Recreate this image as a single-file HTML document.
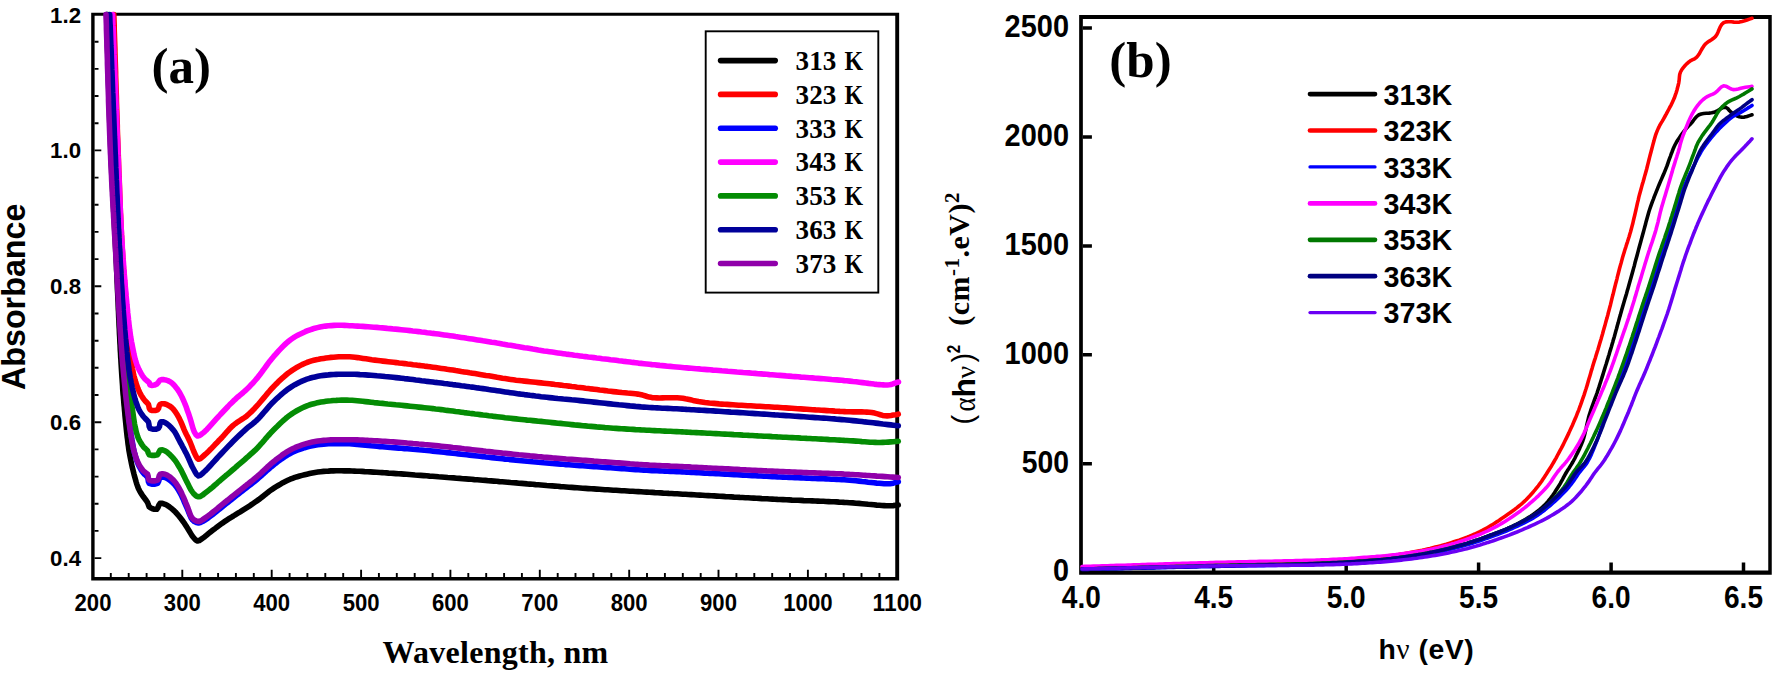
<!DOCTYPE html>
<html lang="en"><head><meta charset="utf-8"><title>UV-Vis absorbance and Tauc plots</title>
<style>
html,body{margin:0;padding:0;background:#fff;}
body{width:1774px;height:674px;overflow:hidden;}
svg{display:block;}
.sb{font-family:"Liberation Sans", sans-serif;font-weight:bold;fill:#000;}
.tb{font-family:"Liberation Serif", serif;font-weight:bold;fill:#000;}
.tr{font-family:"Liberation Serif", serif;font-weight:normal;fill:#000;}
.sr{font-family:"Liberation Sans", sans-serif;font-weight:normal;fill:#000;}
.ca path{fill:none;stroke-width:5.6;stroke-linecap:round;stroke-linejoin:round;}
.cb path{fill:none;stroke-width:3.6;stroke-linecap:round;stroke-linejoin:round;}
</style></head><body>
<svg width="1774" height="674" viewBox="0 0 1774 674" role="img" aria-label="Absorbance spectra and Tauc plots at 313-373 K">
<rect x="0" y="0" width="1774" height="674" fill="#ffffff"/>
<g id="plot-a">
<path fill="#000" d="M91.20 12.85H899.15V580.40H91.20Z M94.60 15.75H895.25V576.90H94.60Z" fill-rule="evenodd"/>
<path d="M94.5 558.1 h6.8 M94.5 530.9 h4.0 M94.5 503.7 h4.0 M94.5 476.6 h4.0 M94.5 449.4 h4.0 M94.5 422.2 h6.8 M94.5 395.0 h4.0 M94.5 367.8 h4.0 M94.5 340.7 h4.0 M94.5 313.5 h4.0 M94.5 286.3 h6.8 M94.5 259.1 h4.0 M94.5 231.9 h4.0 M94.5 204.8 h4.0 M94.5 177.6 h4.0 M94.5 150.4 h6.8 M94.5 123.2 h4.0 M94.5 96.0 h4.0 M94.5 68.9 h4.0 M94.5 41.7 h4.0 M110.8 577.0 v-4.0 M128.7 577.0 v-4.0 M146.6 577.0 v-4.0 M164.4 577.0 v-4.0 M182.3 577.0 v-7.3 M200.2 577.0 v-4.0 M218.1 577.0 v-4.0 M235.9 577.0 v-4.0 M253.8 577.0 v-4.0 M271.7 577.0 v-7.3 M289.6 577.0 v-4.0 M307.4 577.0 v-4.0 M325.3 577.0 v-4.0 M343.2 577.0 v-4.0 M361.1 577.0 v-7.3 M378.9 577.0 v-4.0 M396.8 577.0 v-4.0 M414.7 577.0 v-4.0 M432.6 577.0 v-4.0 M450.4 577.0 v-7.3 M468.3 577.0 v-4.0 M486.2 577.0 v-4.0 M504.1 577.0 v-4.0 M521.9 577.0 v-4.0 M539.8 577.0 v-7.3 M557.7 577.0 v-4.0 M575.5 577.0 v-4.0 M593.4 577.0 v-4.0 M611.3 577.0 v-4.0 M629.2 577.0 v-7.3 M647.0 577.0 v-4.0 M664.9 577.0 v-4.0 M682.8 577.0 v-4.0 M700.7 577.0 v-4.0 M718.5 577.0 v-7.3 M736.4 577.0 v-4.0 M754.3 577.0 v-4.0 M772.2 577.0 v-4.0 M790.0 577.0 v-4.0 M807.9 577.0 v-7.3 M825.8 577.0 v-4.0 M843.7 577.0 v-4.0 M861.5 577.0 v-4.0 M879.4 577.0 v-4.0" stroke="#000" stroke-width="1.9" fill="none"/>
<g class="ca">
<path stroke="#000000" d="M106.6 14.6L106.7 17.4 106.8 20.3 106.9 23.1 106.9 25.9 107 28.8 107.1 31.7 107.2 34.5 107.3 37.4 107.4 40.3 107.4 43.2 107.5 46 107.6 48.9 107.7 51.8 107.8 54.7 107.9 57.6 107.9 60.5 108 63.4 108.1 66.3 108.2 69.2 108.3 72.1 108.4 74.9 108.4 77.8 108.5 80.7 108.6 83.6 108.7 86.5 108.8 89.3 108.9 92.2 108.9 95 109 97.9 109.1 100.7 109.2 103.6 109.3 106.4 109.4 109.2 109.5 112 109.5 114.8 109.6 117.6 109.7 120.4 109.8 123.1 109.9 125.9 110 128.6 110.1 131.3 110.2 134.1 110.3 136.8 110.4 139.4 110.5 142.1 110.6 144.8 110.7 147.4 110.8 150 110.9 153 111 155.9 111.2 158.8 111.3 161.7 111.4 164.6 111.5 167.5 111.7 170.3 111.8 173.1 111.9 175.9 112.1 178.7 112.2 181.5 112.3 184.2 112.5 187 112.6 189.7 112.8 192.5 112.9 195.2 113 197.9 113.2 200.6 113.3 203.3 113.4 206 113.6 208.7 113.7 211.4 113.9 214.1 114 216.8 114.2 219.5 114.3 222.2 114.4 225 114.6 227.7 114.7 230.4 114.9 233.2 115 235.9 115.1 238.7 115.3 241.5 115.4 244.3 115.6 247.2 115.7 250 115.8 252.7 116 255.5 116.1 258.3 116.2 261.2 116.4 264 116.5 266.9 116.6 269.8 116.8 272.7 116.9 275.7 117 278.7 117.1 281.6 117.3 284.6 117.4 287.6 117.5 290.6 117.7 293.6 117.8 296.6 117.9 299.6 118.1 302.6 118.2 305.6 118.3 308.5 118.5 311.5 118.6 314.4 118.7 317.4 118.9 320.3 119 323.1 119.1 326 119.3 328.8 119.4 331.6 119.5 334.4 119.7 337.1 119.8 339.8 119.9 342.5 120.1 345.1 120.2 347.7 120.3 350.2 120.5 352.7 120.6 355.1 120.7 357.4 120.9 359.8 121 362 121.2 365.4 121.4 368.6 121.6 371.7 121.8 374.7 122 377.7 122.2 380.6 122.4 383.4 122.6 386.1 122.7 388.8 122.9 391.5 123.1 394.1 123.4 396.7 123.6 399.4 123.8 402 124 404.6 124.3 407.3 124.5 410 124.8 412.9 125 415.8 125.3 418.8 125.6 421.7 125.9 424.7 126.2 427.6 126.5 430.6 126.8 433.4 127.1 436.3 127.5 439 127.8 441.8 128.1 444.4 128.5 446.9 128.8 449.4 129.2 451.7 129.7 454.6 130.2 457.3 130.7 459.8 131.2 462.3 131.7 464.7 132.2 467 132.8 469.3 133.4 471.7 134 474.2 134.7 476.8 135.4 479.3 136.1 481.8 136.8 484.1 137.6 486.4 138.4 488.4 139.6 490.8 140.8 492.9 142.1 494.9 143.4 496.8 144.9 498.8 146.4 500.8 147.6 502.6 148.4 504.9 149.2 506.8 150.5 507.8 152 508.5 154.4 509.3 156.7 509.3 157.9 507.6 158.9 505.1 160.1 503.4 162.4 503.3 165.1 504.3 167.1 505.3 169.2 506.7 171.4 508.4 173.4 510.1 175.4 512 177.3 514.1 179.1 516.2 180.9 518.5 182.4 520.5 183.9 522.6 185.3 524.8 186.7 526.9 188 529 189.4 531.3 190.8 533.6 192.1 535.7 193.5 537.5 195.4 539.8 197.5 541 199.2 540.6 201 539.4 203 538 204.8 536.7 206.7 535.1 208.7 533.4 210.8 531.7 213 530 215.2 528.4 217.4 526.7 219.7 525 222.1 523.3 224.5 521.7 226.8 520.1 229 518.7 231.2 517.3 233.4 516 235.6 514.6 237.9 513.2 240.2 511.8 242.5 510.3 244.9 508.8 247.3 507.3 249.7 505.8 252.1 504.2 254.5 502.5 256.9 500.9 259 499.4 261.1 497.8 263.1 496.2 265.2 494.6 267.2 492.9 269.3 491.3 271.4 489.8 273.5 488.4 275.8 486.9 278.2 485.5 280.6 484.1 282.9 482.7 285.3 481.5 287.8 480.3 290.2 479.2 292.5 478.3 294.9 477.4 297.3 476.7 299.7 476 302.1 475.4 304.5 474.8 306.9 474.2 309.6 473.6 312.3 473 315.1 472.5 317.8 472.1 320.6 471.7 323.6 471.4 326 471.2 328.4 471.1 331 470.9 333.5 470.9 336.1 470.8 338.8 470.8 341.5 470.8 344.2 470.9 347 470.9 349.5 470.9 352 471 354.4 471.1 356.9 471.2 359.4 471.3 362 471.4 364.7 471.6 367.5 471.7 370.4 471.9 373.4 472.1 376.6 472.3 380 472.5 382.1 472.6 384.2 472.8 386.4 472.9 388.7 473.1 391.1 473.2 393.5 473.4 396 473.6 398.6 473.8 401.2 473.9 403.9 474.1 406.6 474.3 409.3 474.5 412.1 474.7 415 475 417.8 475.2 420.7 475.4 423.7 475.6 426.6 475.8 429.6 476.1 432.6 476.3 435.6 476.5 438.6 476.8 441.6 477 444.7 477.2 447.7 477.5 450.7 477.7 453.7 477.9 456.7 478.2 459.7 478.4 462.7 478.7 465.7 478.9 468.6 479.1 471.5 479.3 474.4 479.6 477.2 479.8 480 480 482.8 480.2 485.6 480.4 488.3 480.7 491.1 480.9 493.9 481.1 496.7 481.3 499.4 481.6 502.2 481.8 505 482 507.8 482.2 510.6 482.5 513.3 482.7 516.1 482.9 518.9 483.2 521.7 483.4 524.4 483.6 527.2 483.9 530 484.1 532.8 484.3 535.6 484.6 538.3 484.8 541.1 485 543.9 485.2 546.7 485.5 549.4 485.7 552.2 485.9 555 486.1 557.8 486.3 560.6 486.6 563.3 486.8 566.1 487 568.9 487.2 571.7 487.4 574.4 487.6 577.2 487.8 580 488 582.8 488.2 585.6 488.4 588.3 488.6 591.1 488.8 593.9 488.9 596.7 489.1 599.4 489.3 602.2 489.5 605 489.7 607.8 489.8 610.5 490 613.3 490.2 616.1 490.3 618.9 490.5 621.7 490.7 624.4 490.8 627.2 491 630 491.2 632.8 491.3 635.6 491.5 638.3 491.6 641.1 491.8 643.9 492 646.7 492.1 649.4 492.3 652.2 492.4 655 492.6 657.8 492.7 660.6 492.9 663.3 493.1 666.1 493.2 668.9 493.4 671.7 493.5 674.4 493.7 677.2 493.8 680 494 682.8 494.2 685.6 494.3 688.4 494.5 691.2 494.6 694.1 494.8 696.9 495 699.8 495.1 702.6 495.3 705.5 495.5 708.3 495.6 711.2 495.8 714.1 495.9 716.9 496.1 719.8 496.3 722.7 496.4 725.5 496.6 728.4 496.7 731.3 496.9 734.1 497.1 736.9 497.2 739.8 497.4 742.6 497.5 745.4 497.7 748.2 497.8 750.9 498 753.7 498.1 756.4 498.3 759.1 498.4 761.8 498.6 764.5 498.7 767.1 498.8 769.8 499 772.4 499.1 774.9 499.2 777.5 499.4 780 499.5 783 499.6 786.1 499.8 789.1 499.9 792.1 500.1 795 500.2 798 500.3 800.9 500.4 803.8 500.6 806.6 500.7 809.5 500.8 812.3 500.9 815.1 501 817.9 501.1 820.6 501.2 823.3 501.3 826 501.5 828.7 501.6 831.4 501.7 834 501.8 836.6 501.9 839.1 502.1 841.7 502.2 844.2 502.4 846.7 502.5 849.7 502.7 852.8 502.9 855.9 503.2 859 503.4 862.1 503.7 865.1 504 868.1 504.3 871.1 504.5 873.9 504.8 876.7 505.1 879.3 505.3 881.8 505.5 884.1 505.6 886.3 505.7 888.2 505.8 890 505.8 893.2 505.6 895.8 505.3 898.3 505.0"/>
<path stroke="#ff0000" d="M113.8 14.6L113.9 17.4 114 20.3 114.1 23.1 114.2 25.9 114.2 28.8 114.3 31.7 114.4 34.5 114.5 37.4 114.6 40.3 114.7 43.2 114.8 46 114.9 48.9 114.9 51.8 115 54.7 115.1 57.6 115.2 60.5 115.3 63.4 115.4 66.3 115.5 69.2 115.6 72.1 115.6 74.9 115.7 77.8 115.8 80.7 115.9 83.6 116 86.5 116.1 89.3 116.2 92.2 116.3 95 116.4 97.9 116.4 100.7 116.5 103.6 116.6 106.4 116.7 109.2 116.8 112 116.9 114.8 117 117.6 117.1 120.4 117.2 123.1 117.3 125.9 117.3 128.6 117.4 131.3 117.5 134.1 117.6 136.8 117.7 139.4 117.8 142.1 117.9 144.8 118 147.4 118.1 150 118.2 153 118.3 155.9 118.4 158.9 118.5 161.8 118.6 164.8 118.7 167.7 118.8 170.6 118.9 173.5 119 176.3 119.2 179.2 119.3 182 119.4 184.9 119.5 187.7 119.6 190.5 119.7 193.3 119.8 196.1 119.9 198.9 120 201.6 120.1 204.4 120.2 207.2 120.3 209.9 120.4 212.6 120.6 215.3 120.7 218.1 120.8 220.8 120.9 223.5 121 226.1 121.2 228.8 121.3 231.5 121.4 234.2 121.6 236.8 121.7 239.5 121.8 242.1 122 244.7 122.1 247.4 122.3 250 122.5 252.9 122.7 255.9 122.8 258.8 123 261.7 123.2 264.7 123.4 267.6 123.6 270.6 123.9 273.5 124.1 276.5 124.3 279.4 124.5 282.3 124.7 285.2 125 288.1 125.2 291 125.4 293.8 125.6 296.6 125.9 299.4 126.1 302.2 126.3 304.9 126.5 307.6 126.8 310.3 127 312.9 127.2 315.5 127.4 318 127.7 320.5 127.9 323 128.1 325.4 128.3 327.7 128.5 330 128.8 333.2 129.1 336.4 129.4 339.6 129.6 342.6 129.9 345.7 130.2 348.6 130.5 351.5 130.7 354.2 131 356.9 131.3 359.5 131.6 361.9 131.9 364.2 132.2 366.4 132.5 368.4 133 371.2 133.4 373.6 133.9 375.7 134.5 377.8 135.1 380.1 135.9 382.8 136.9 385.6 137.9 388.4 139 391 140.1 393.4 141.3 395.5 142.6 397.5 143.9 399.3 145.1 400.9 146.9 402.6 148.4 404.3 148.9 406.2 149.3 408.3 150.1 409.8 152.3 410.5 155.2 410.5 157.6 409.8 158.6 408.2 159.2 405.9 160.1 404.3 162 403.7 164.3 403.8 166.7 404.5 169.4 405.9 171.8 407.6 173.6 409.5 175.3 411.7 176.9 414.2 178.4 416.8 179.6 419.1 180.8 421.6 181.9 424.2 183 426.9 184 429.4 185.1 431.8 186.4 434.5 187.7 437 188.9 439.5 190.1 442 191 444.2 191.9 446.5 192.7 448.8 193.6 451 194.5 453 195.7 455.6 197 458 198.5 459.2 200.1 458.8 201.9 457.3 204 455.5 205.5 454.2 207.1 452.7 208.9 451 210.8 449.1 212.7 447.1 214.6 445.1 216.6 443.1 218.4 441.1 220.2 439.3 222.2 437.2 224.1 435.1 225.9 432.9 227.8 430.8 229.6 428.8 231.5 426.9 233.5 425.1 235.7 423.4 237.9 421.8 240.2 420.4 242.5 418.9 244.7 417.5 246.8 415.9 248.9 414 250.9 412.2 252.8 410.2 254.8 408.2 256.9 405.9 258.6 404 260.3 402 262.1 399.9 264 397.6 265.8 395.4 267.7 393.1 269.7 390.9 271.6 388.7 273.5 386.7 275.5 384.6 277.6 382.6 279.6 380.6 281.7 378.7 283.8 376.8 285.9 375 288 373.3 290.2 371.7 292.5 370.1 294.9 368.6 297.2 367.2 299.6 365.9 302 364.6 304.5 363.5 306.9 362.5 309.2 361.7 311.5 360.9 313.8 360.3 316.2 359.7 318.6 359.3 321 358.8 323.6 358.4 326 358 328.5 357.7 331 357.4 333.5 357.2 336.1 357 338.8 356.8 341.5 356.7 344.2 356.7 347 356.7 349.6 356.8 352.3 357 354.9 357.3 357.6 357.6 360.4 358 363.1 358.4 366 358.8 368.9 359.2 371.8 359.7 374.9 360.1 378 360.5 380.4 360.8 382.9 361.1 385.5 361.4 388.1 361.7 390.8 362 393.5 362.3 396.2 362.6 399 363 401.8 363.3 404.7 363.6 407.5 364 410.4 364.3 413.2 364.7 416.1 365 418.9 365.4 421.7 365.7 424.5 366.1 427.3 366.4 430 366.8 432.8 367.2 435.7 367.6 438.5 368 441.4 368.4 444.3 368.8 447.1 369.3 450 369.7 452.9 370.1 455.7 370.6 458.5 371 461.3 371.5 464.1 371.9 466.9 372.3 469.6 372.8 472.3 373.2 474.9 373.6 477.5 374 480 374.4 483 374.9 485.9 375.4 488.8 375.8 491.6 376.3 494.3 376.8 497.1 377.3 499.8 377.7 502.4 378.2 505.1 378.6 507.8 379 510.5 379.4 513.3 379.8 516.1 380.2 518.9 380.5 521.6 380.8 524.4 381.1 527.2 381.4 530 381.7 532.8 382 535.6 382.3 538.4 382.6 541.1 382.9 543.9 383.2 546.7 383.5 549.5 383.8 552.3 384.1 555 384.5 557.8 384.8 560.6 385.1 563.4 385.5 566.1 385.8 568.9 386.1 571.7 386.5 574.5 386.8 577.2 387.2 580 387.5 582.8 387.8 585.6 388.2 588.4 388.5 591.2 388.9 594.1 389.2 596.9 389.6 599.7 390 602.5 390.3 605.2 390.6 608 391 610.7 391.3 613.3 391.6 616.1 391.9 619 392.2 621.9 392.5 624.7 392.7 627.5 393 630.2 393.2 632.9 393.5 635.4 393.8 637.8 394.1 640 394.5 642.6 395.1 644.9 395.8 647.1 396.5 649.3 397.1 652 397.6 654.3 397.8 656.9 397.9 659.6 398 662.4 397.9 665.4 397.8 668.4 397.8 671.4 397.7 674.3 397.7 677.2 397.8 680 398 682.8 398.3 685.4 398.8 687.9 399.2 690.5 399.8 693 400.4 695.7 400.9 698.6 401.5 701.6 402 705 402.5 707.1 402.7 709.3 403 711.6 403.2 714 403.4 716.5 403.6 719 403.9 721.7 404.1 724.4 404.3 727.2 404.4 730 404.6 732.9 404.8 735.8 405 738.8 405.2 741.7 405.3 744.7 405.5 747.8 405.7 750.8 405.8 753.8 406 756.8 406.2 759.9 406.3 762.9 406.5 765.8 406.7 768.7 406.8 771.6 407 774.5 407.2 777.3 407.3 780 407.5 782.9 407.7 785.8 407.9 788.7 408.1 791.7 408.3 794.7 408.5 797.7 408.7 800.7 408.9 803.7 409.1 806.7 409.3 809.7 409.5 812.7 409.7 815.6 409.9 818.5 410 821.4 410.2 824.2 410.4 827 410.6 829.7 410.8 832.4 410.9 835 411.1 837.5 411.2 839.9 411.4 842.3 411.5 844.5 411.6 846.7 411.7 850 411.8 853.2 411.9 856.2 411.9 859.1 411.9 861.8 411.9 864.4 412 866.9 412.1 869.3 412.2 871.7 412.5 874.7 413.1 877.6 413.9 880.3 414.7 882.7 415.4 885 415.8 887.1 415.9 889 415.7 891 415.5 893.4 415.1 895.8 414.7 898.3 414.2"/>
<path stroke="#0000ff" d="M107 14.6L107.1 17.4 107.2 20.3 107.3 23.1 107.4 25.9 107.4 28.8 107.5 31.7 107.6 34.5 107.7 37.4 107.8 40.3 107.9 43.2 107.9 46 108 48.9 108.1 51.8 108.2 54.7 108.3 57.6 108.4 60.5 108.4 63.4 108.5 66.3 108.6 69.2 108.7 72.1 108.8 74.9 108.9 77.8 108.9 80.7 109 83.6 109.1 86.5 109.2 89.3 109.3 92.2 109.4 95 109.5 97.9 109.5 100.7 109.6 103.6 109.7 106.4 109.8 109.2 109.9 112 110 114.8 110.1 117.6 110.2 120.4 110.3 123.1 110.4 125.9 110.5 128.6 110.6 131.3 110.7 134.1 110.8 136.8 110.9 139.4 111 142.1 111.1 144.8 111.2 147.4 111.3 150 111.4 153 111.6 155.9 111.7 158.8 111.8 161.7 111.9 164.6 112.1 167.5 112.2 170.3 112.3 173.1 112.5 175.9 112.6 178.7 112.7 181.5 112.9 184.2 113 187 113.2 189.7 113.3 192.5 113.4 195.2 113.6 197.9 113.7 200.6 113.9 203.3 114 206 114.2 208.7 114.3 211.4 114.5 214.1 114.6 216.8 114.8 219.5 114.9 222.2 115.1 225 115.2 227.7 115.4 230.4 115.5 233.2 115.7 235.9 115.9 238.7 116 241.5 116.2 244.3 116.3 247.2 116.5 250 116.7 252.7 116.8 255.5 117 258.3 117.1 261.2 117.3 264 117.5 266.9 117.6 269.8 117.8 272.7 118 275.7 118.1 278.7 118.3 281.6 118.5 284.6 118.7 287.6 118.8 290.6 119 293.6 119.2 296.6 119.4 299.6 119.6 302.6 119.7 305.6 119.9 308.5 120.1 311.5 120.3 314.4 120.5 317.4 120.6 320.3 120.8 323.2 121 326 121.2 328.8 121.4 331.6 121.5 334.4 121.7 337.1 121.9 339.8 122.1 342.5 122.3 345.1 122.4 347.7 122.6 350.2 122.8 352.7 123 355.1 123.2 357.4 123.3 359.8 123.5 362 123.8 365.4 124 368.7 124.3 371.9 124.6 375 124.8 378 125.1 381 125.3 383.9 125.6 386.7 125.9 389.5 126.1 392.2 126.4 394.9 126.7 397.5 126.9 400.1 127.2 402.6 127.5 405.1 127.7 407.6 128 410 128.3 413 128.7 416 129 418.9 129.4 421.7 129.7 424.4 130 427 130.4 429.6 130.8 432.1 131.1 434.6 131.5 437 131.9 439.7 132.4 442.2 132.8 444.7 133.2 447.2 133.7 449.5 134.2 451.8 134.8 454 135.5 456.6 136.3 459.1 137.1 461.5 138 463.8 139 466 140.2 468.2 141.4 470.3 142.7 472.2 144 473.8 145.9 475.5 147.6 477.2 148.1 479.3 148.4 481.6 149.2 483.3 151.7 484.1 155 484.1 157.6 483.3 158.6 481.5 159.2 479.2 160.1 477.5 162.4 477 165.1 477.5 167.1 478.4 169.3 479.8 171.4 481.5 173.4 483.3 174.9 485 176.3 486.8 177.6 488.8 178.9 490.8 180.1 493 181.3 495.2 182.4 497.6 183.6 500.1 184.6 502.6 185.7 505.1 186.8 507.5 187.9 510.2 189 513 190.1 515.7 191.2 518.1 192.6 520 194.4 521.6 196.4 522.6 198.5 523 200.4 522.6 202.4 521.6 204.5 520.3 206.8 518.8 208.6 517.6 210.6 516.1 212.7 514.5 214.8 512.8 217 511 219.2 509.3 221.4 507.5 223.5 505.8 225.6 504.1 227.7 502.5 229.8 500.8 231.9 499.2 233.9 497.5 236 495.8 238.1 494.2 240.2 492.5 242.3 490.9 244.4 489.3 246.5 487.7 248.6 486.1 250.7 484.5 252.8 482.8 254.8 481.2 256.9 479.5 259 477.7 261.1 475.9 263.1 474 265.2 472.2 267.2 470.3 269.3 468.5 271.4 466.7 273.5 465 275.5 463.4 277.6 461.8 279.7 460.3 281.7 458.8 283.8 457.4 285.9 456 288.1 454.7 290.2 453.5 292.5 452.3 294.9 451.2 297.3 450.2 299.7 449.3 302.1 448.5 304.5 447.7 306.9 447 309.6 446.3 312.3 445.7 315 445.2 317.8 444.8 320.6 444.5 323.6 444.2 326 444 328.5 443.8 331 443.7 333.5 443.6 336.1 443.6 338.8 443.6 341.5 443.6 344.2 443.6 347 443.7 349.5 443.8 352.1 444 354.7 444.1 357.3 444.4 360 444.6 362.7 444.9 365.5 445.2 368.3 445.5 371.1 445.8 374 446 377 446.3 380 446.6 382.5 446.8 385.1 447 387.7 447.2 390.4 447.5 393.1 447.7 395.9 447.9 398.7 448.1 401.5 448.3 404.4 448.6 407.2 448.8 410.1 449 413 449.3 415.8 449.5 418.7 449.8 421.6 450 424.4 450.3 427.2 450.5 430 450.8 432.8 451.1 435.6 451.4 438.5 451.7 441.3 452 444.2 452.3 447 452.6 449.9 452.9 452.8 453.2 455.6 453.5 458.5 453.9 461.3 454.2 464.1 454.5 466.8 454.8 469.6 455.1 472.3 455.4 474.9 455.7 477.5 456 480 456.3 483 456.6 485.9 457 488.8 457.3 491.6 457.6 494.3 457.9 497.1 458.2 499.8 458.5 502.4 458.8 505.1 459.1 507.8 459.3 510.5 459.6 513.3 459.9 516.1 460.2 518.9 460.5 521.6 460.7 524.4 461 527.2 461.3 530 461.5 532.8 461.8 535.6 462 538.4 462.3 541.1 462.5 543.9 462.8 546.7 463 549.5 463.2 552.3 463.5 555 463.7 557.8 463.9 560.6 464.1 563.4 464.3 566.1 464.6 568.9 464.8 571.7 465 574.4 465.2 577.2 465.4 580 465.6 582.8 465.8 585.5 466 588.3 466.2 591.1 466.4 593.9 466.6 596.6 466.8 599.4 467 602.2 467.2 605 467.4 607.7 467.6 610.5 467.8 613.3 468 616.1 468.2 618.9 468.4 621.6 468.6 624.4 468.8 627.2 469 630 469.2 632.8 469.4 635.6 469.6 638.4 469.8 641.1 470 643.9 470.1 646.7 470.3 649.4 470.4 652 470.6 654.6 470.7 657.1 470.8 659.7 470.9 662.2 471 664.9 471.1 667.6 471.2 670.4 471.4 673.4 471.5 676.6 471.6 680 471.8 682.1 471.9 684.3 472 686.5 472.1 688.9 472.2 691.3 472.4 693.8 472.5 696.4 472.6 699 472.8 701.7 472.9 704.5 473.1 707.3 473.2 710.1 473.4 713 473.5 715.9 473.7 718.9 473.8 721.9 474 724.9 474.1 727.9 474.3 730.9 474.5 734 474.6 737 474.8 740.1 474.9 743.1 475.1 746.2 475.3 749.2 475.4 752.2 475.6 755.2 475.7 758.1 475.9 761 476 763.9 476.2 766.7 476.3 769.5 476.5 772.2 476.6 774.9 476.7 777.5 476.9 780 477 783 477.1 786.1 477.3 789.1 477.4 792.1 477.5 795 477.7 798 477.8 800.9 477.9 803.8 478 806.6 478.1 809.5 478.2 812.3 478.4 815.1 478.5 817.9 478.6 820.6 478.7 823.3 478.8 826 478.9 828.7 479 831.4 479.2 834 479.3 836.6 479.4 839.1 479.5 841.7 479.7 844.2 479.8 846.7 480 849.7 480.2 852.8 480.5 855.9 480.8 859 481.1 862.1 481.5 865.1 481.8 868.1 482.2 871.1 482.5 873.9 482.8 876.7 483.1 879.3 483.3 881.8 483.5 884.1 483.7 886.3 483.8 888.2 483.8 890 483.7 893.3 483.2 895.8 482.4 898.3 481.7"/>
<path stroke="#ff00ff" d="M112.6 14.6L112.7 17.4 112.8 20.3 112.9 23.1 113 25.9 113.2 28.8 113.3 31.7 113.4 34.5 113.5 37.4 113.6 40.3 113.7 43.2 113.8 46 113.9 48.9 114 51.8 114.1 54.7 114.3 57.6 114.4 60.5 114.5 63.4 114.6 66.3 114.7 69.2 114.8 72.1 114.9 74.9 115 77.8 115.1 80.7 115.2 83.6 115.4 86.5 115.5 89.3 115.6 92.2 115.7 95 115.8 97.9 115.9 100.7 116 103.6 116.1 106.4 116.2 109.2 116.4 112 116.5 114.8 116.6 117.6 116.7 120.4 116.8 123.1 116.9 125.9 117 128.6 117.1 131.3 117.2 134.1 117.3 136.8 117.5 139.4 117.6 142.1 117.7 144.8 117.8 147.4 117.9 150 118 153 118.1 155.9 118.3 158.9 118.4 161.8 118.5 164.8 118.6 167.7 118.7 170.6 118.8 173.5 119 176.3 119.1 179.2 119.2 182 119.3 184.9 119.4 187.7 119.5 190.5 119.6 193.3 119.7 196.1 119.9 198.9 120 201.7 120.1 204.4 120.2 207.2 120.3 209.9 120.4 212.6 120.6 215.4 120.7 218.1 120.8 220.8 121 223.5 121.1 226.1 121.2 228.8 121.4 231.5 121.5 234.2 121.7 236.8 121.8 239.5 122 242.1 122.2 244.7 122.3 247.4 122.5 250 122.7 252.9 122.9 255.9 123.1 258.9 123.4 262 123.6 265.1 123.8 268.2 124.1 271.3 124.3 274.4 124.6 277.5 124.8 280.6 125.1 283.7 125.3 286.7 125.6 289.8 125.9 292.8 126.1 295.8 126.4 298.7 126.7 301.6 126.9 304.4 127.2 307.2 127.5 309.9 127.7 312.5 128 315 128.3 317.5 128.5 319.8 128.8 322.1 129 324.3 129.2 326.3 129.5 328.2 129.7 330 130.2 333.5 130.6 336.5 131.1 339.2 131.5 341.7 132 344.1 132.5 346.7 133 349.3 133.5 351.9 134 354.5 134.6 357 135.2 359.4 135.9 361.7 136.8 364.4 137.8 367 138.9 369.4 140.1 371.7 141.3 373.8 142.5 375.8 143.8 377.6 145.1 379.2 147.3 381 149.2 382.6 149.6 384 150.1 385.1 151.9 385.4 154.5 385 156.7 384.2 158.5 382.1 160.1 380.1 161.6 379.6 163.4 379.6 165.5 379.9 167.8 380.6 170.1 381.7 171.9 383 173.6 384.6 175.2 386.4 176.8 388.4 178.2 390.4 179.6 392.6 180.9 395 182.2 397.5 183.4 400.1 184.4 402.5 185.5 405.1 186.5 407.8 187.4 410.5 188.4 413.2 189.3 415.9 190.1 418.4 191 421.3 191.8 424.3 192.6 427.1 193.4 429.7 194.3 431.8 195.8 434.5 197.6 436 199.3 435.6 201.3 434.3 203.5 432.6 205.2 431.1 206.9 429.4 208.8 427.3 210.8 425.1 212.8 422.9 214.8 420.6 216.8 418.4 218.6 416.5 220.4 414.5 222.3 412.5 224.2 410.5 226.1 408.5 228 406.5 229.8 404.5 231.7 402.7 233.5 400.9 235.5 399.1 237.4 397.3 239.4 395.7 241.3 394.1 243.2 392.5 245 390.9 246.8 389.2 248.6 387.5 250.2 385.8 251.9 384.1 253.5 382.3 255.1 380.5 256.9 378.4 258.4 376.5 260 374.5 261.6 372.4 263.2 370.1 264.9 367.8 266.6 365.5 268.3 363.2 270 360.9 271.8 358.7 273.5 356.7 275.3 354.7 277.1 352.6 278.9 350.6 280.8 348.6 282.6 346.7 284.5 344.9 286.4 343.1 288.3 341.5 290.2 340 292.3 338.5 294.4 337.1 296.5 335.9 298.7 334.7 300.9 333.7 303 332.7 305.2 331.7 307.6 330.7 310 329.8 312.5 329 314.9 328.2 317.4 327.6 320 327 322.7 326.5 325.5 326.1 328.4 325.8 331.2 325.6 334.1 325.4 337 325.3 339.5 325.3 342 325.3 344.5 325.4 347.1 325.5 349.6 325.7 352.3 325.8 355 326 357.6 326.1 360.1 326.3 362.7 326.4 365.4 326.6 368.1 326.8 370.9 327 373.8 327.2 376.8 327.4 380 327.7 382.4 327.9 384.8 328.1 387.3 328.4 390 328.6 392.7 328.9 395.4 329.1 398.2 329.4 401.1 329.7 403.9 330 406.8 330.3 409.8 330.6 412.7 331 415.6 331.3 418.6 331.6 421.5 332 424.4 332.3 427.2 332.7 430 333 432.8 333.4 435.6 333.7 438.5 334.1 441.3 334.5 444.2 334.9 447.1 335.3 449.9 335.7 452.8 336.1 455.6 336.6 458.5 337 461.3 337.4 464.1 337.8 466.9 338.3 469.6 338.7 472.3 339.1 474.9 339.5 477.5 339.9 480 340.3 483 340.8 485.9 341.2 488.8 341.7 491.6 342.2 494.4 342.6 497.1 343.1 499.8 343.5 502.4 344 505.1 344.4 507.8 344.9 510.5 345.3 513.3 345.8 516.1 346.3 518.9 346.7 521.6 347.2 524.4 347.7 527.2 348.1 530 348.6 532.8 349.1 535.6 349.5 538.3 350 541.1 350.4 543.9 350.9 546.7 351.3 549.5 351.7 552.2 352.1 555 352.5 557.8 352.9 560.6 353.3 563.3 353.7 566.1 354.1 568.9 354.4 571.7 354.8 574.4 355.2 577.2 355.5 580 355.9 582.8 356.3 585.5 356.6 588.3 357 591.1 357.3 593.9 357.6 596.6 358 599.4 358.3 602.2 358.7 605 359 607.7 359.3 610.5 359.7 613.3 360 616.1 360.3 618.9 360.7 621.6 361 624.4 361.4 627.2 361.7 630 362 632.8 362.4 635.6 362.7 638.3 363.1 641.1 363.4 643.9 363.7 646.7 364 649.4 364.3 652 364.6 654.6 364.8 657.1 365.1 659.7 365.4 662.2 365.6 664.9 365.9 667.6 366.2 670.4 366.4 673.4 366.7 676.6 367 680 367.3 682.1 367.5 684.3 367.7 686.5 367.9 688.9 368.1 691.3 368.3 693.8 368.5 696.4 368.7 699 368.9 701.7 369.2 704.5 369.4 707.3 369.6 710.1 369.8 713 370.1 715.9 370.3 718.9 370.5 721.9 370.8 724.9 371 727.9 371.3 730.9 371.5 734 371.7 737 372 740.1 372.2 743.1 372.5 746.2 372.7 749.2 372.9 752.2 373.2 755.2 373.4 758.1 373.7 761 373.9 763.9 374.1 766.7 374.3 769.5 374.6 772.2 374.8 774.9 375 777.5 375.2 780 375.4 783.1 375.6 786.1 375.9 789.1 376.1 792.1 376.4 795.1 376.6 798.1 376.8 801 377.1 803.9 377.3 806.8 377.5 809.7 377.7 812.5 377.9 815.3 378.2 818.1 378.4 820.9 378.6 823.6 378.8 826.3 379 829 379.2 831.6 379.5 834.2 379.7 836.8 379.9 839.3 380.1 841.8 380.3 844.3 380.6 846.7 380.8 849.8 381.1 853 381.5 856.2 381.8 859.4 382.2 862.5 382.6 865.6 383 868.6 383.4 871.5 383.7 874.2 384.1 876.8 384.4 879.2 384.6 881.4 384.8 883.3 384.9 885 385 887.4 385 889.2 384.8 891 384.5 893 383.9 895 383.1 896.7 382.5 897.7 382.2 898.5 382.0"/>
<path stroke="#048c04" d="M108 14.6L108.1 17.4 108.2 20.3 108.4 23.1 108.5 25.9 108.6 28.8 108.7 31.7 108.9 34.5 109 37.4 109.1 40.3 109.2 43.2 109.4 46 109.5 48.9 109.6 51.8 109.7 54.7 109.9 57.6 110 60.5 110.1 63.4 110.2 66.3 110.4 69.2 110.5 72.1 110.6 74.9 110.7 77.8 110.8 80.7 111 83.6 111.1 86.5 111.2 89.3 111.3 92.2 111.5 95 111.6 97.9 111.7 100.7 111.8 103.6 112 106.4 112.1 109.2 112.2 112 112.3 114.8 112.5 117.6 112.6 120.4 112.7 123.1 112.8 125.9 113 128.6 113.1 131.3 113.2 134.1 113.4 136.8 113.5 139.4 113.6 142.1 113.7 144.8 113.9 147.4 114 150 114.1 153 114.3 155.9 114.4 158.8 114.6 161.7 114.7 164.6 114.9 167.5 115 170.3 115.2 173.1 115.3 175.9 115.5 178.7 115.6 181.5 115.8 184.2 115.9 187 116.1 189.7 116.2 192.5 116.4 195.2 116.5 197.9 116.7 200.6 116.8 203.3 117 206 117.1 208.7 117.3 211.4 117.5 214.1 117.6 216.8 117.8 219.5 117.9 222.2 118.1 225 118.2 227.7 118.4 230.4 118.5 233.2 118.7 235.9 118.9 238.7 119 241.5 119.2 244.3 119.3 247.2 119.5 250 119.7 252.7 119.8 255.5 120 258.3 120.1 261.2 120.3 264 120.4 266.9 120.5 269.8 120.7 272.7 120.8 275.7 121 278.7 121.1 281.6 121.3 284.6 121.4 287.6 121.6 290.6 121.7 293.6 121.9 296.6 122 299.6 122.1 302.6 122.3 305.6 122.5 308.5 122.6 311.5 122.8 314.4 122.9 317.4 123.1 320.3 123.2 323.2 123.4 326 123.6 328.9 123.7 331.7 123.9 334.4 124.1 337.2 124.2 339.9 124.4 342.5 124.6 345.1 124.8 347.7 125 350.2 125.2 352.7 125.4 355.1 125.6 357.5 125.8 359.8 126 362 126.3 365.4 126.7 368.7 127.1 372 127.5 375.2 127.9 378.4 128.3 381.4 128.7 384.4 129.1 387.4 129.5 390.2 129.9 393 130.3 395.7 130.7 398.3 131.1 400.8 131.5 403.3 131.8 405.6 132.2 407.9 132.5 410 133 413.3 133.4 416.3 133.8 419.1 134.2 421.7 134.6 424.2 135.1 426.7 135.7 429.2 136.2 431.7 136.9 434 137.6 436.3 138.4 438.4 139.5 440.7 140.8 442.9 142.1 444.9 143.4 446.7 144.9 448.2 146.4 449.5 147.6 450.9 148.3 453 149.2 454.7 151.7 455.4 155 455.4 157.6 454.7 158.9 452.3 160.1 450 162.4 449.9 165.1 450.9 167.1 452.2 169.3 454.1 171.4 456.2 173.4 458.4 174.9 460.2 176.3 462.1 177.6 464.2 178.8 466.2 180.1 468.4 181.3 470.5 182.4 472.7 183.5 475 184.6 477.3 185.7 479.6 186.8 481.8 188.1 484.3 189.4 486.9 190.7 489.4 192.1 491.6 193.5 493.4 195.1 495 196.7 496.3 198.5 496.8 200.4 496.4 202.4 495.2 204.5 493.5 206.8 491.8 208.6 490.4 210.6 488.8 212.7 487.1 214.8 485.2 217 483.3 219.2 481.3 221.4 479.4 223.5 477.6 225.6 475.8 227.7 474.1 229.8 472.3 231.9 470.5 234 468.8 236 467 238.1 465.2 240.2 463.4 242.3 461.6 244.4 459.8 246.5 457.9 248.6 456.1 250.7 454.2 252.8 452.3 254.9 450.4 256.9 448.4 258.8 446.5 260.6 444.4 262.5 442.4 264.3 440.3 266.1 438.1 267.9 436 269.8 434 271.6 431.9 273.5 430 275.5 428 277.6 426 279.6 424 281.7 422 283.8 420.1 285.9 418.3 288 416.6 290.2 415 292.5 413.4 294.9 411.9 297.2 410.5 299.6 409.2 302 408 304.5 406.9 306.9 405.9 309.2 405 311.5 404.3 313.8 403.7 316.2 403.1 318.6 402.6 321 402.1 323.6 401.7 326 401.3 328.4 401 330.9 400.8 333.5 400.5 336.1 400.4 338.7 400.2 341.5 400.1 344.2 400.1 347 400.1 349.5 400.2 352.1 400.3 354.7 400.5 357.3 400.7 360 401 362.7 401.3 365.5 401.6 368.3 401.9 371.1 402.2 374 402.6 377 402.9 380 403.2 382.5 403.4 385.1 403.7 387.7 404 390.4 404.2 393.1 404.5 395.9 404.8 398.7 405 401.5 405.3 404.4 405.6 407.2 405.9 410.1 406.2 413 406.5 415.8 406.8 418.7 407.1 421.6 407.4 424.4 407.7 427.2 408 430 408.3 432.8 408.6 435.6 409 438.5 409.3 441.3 409.6 444.2 410 447 410.4 449.9 410.7 452.8 411.1 455.6 411.5 458.5 411.8 461.3 412.2 464.1 412.6 466.8 412.9 469.6 413.3 472.3 413.6 474.9 414 477.5 414.3 480 414.6 483 415 485.9 415.3 488.8 415.7 491.6 416 494.3 416.4 497.1 416.7 499.8 417 502.4 417.3 505.1 417.7 507.8 418 510.5 418.3 513.3 418.6 516.1 418.9 518.9 419.2 521.6 419.5 524.4 419.8 527.2 420.1 530 420.3 532.8 420.6 535.6 420.9 538.4 421.2 541.1 421.4 543.9 421.7 546.7 422 549.5 422.3 552.3 422.6 555 422.9 557.8 423.2 560.6 423.4 563.4 423.7 566.1 424 568.9 424.3 571.7 424.6 574.4 424.9 577.2 425.1 580 425.4 582.8 425.7 585.5 425.9 588.3 426.2 591.1 426.4 593.9 426.6 596.6 426.9 599.4 427.1 602.2 427.3 605 427.6 607.7 427.8 610.5 428 613.3 428.2 616.1 428.4 618.9 428.6 621.6 428.8 624.4 428.9 627.2 429.1 630 429.3 632.8 429.4 635.6 429.6 638.4 429.7 641.1 429.9 643.9 430 646.7 430.2 649.4 430.3 652 430.5 654.6 430.6 657.1 430.7 659.7 430.8 662.2 431 664.9 431.1 667.6 431.2 670.4 431.3 673.4 431.5 676.6 431.6 680 431.8 682.1 431.9 684.3 432 686.5 432.1 688.9 432.2 691.3 432.4 693.8 432.5 696.4 432.6 699 432.8 701.7 432.9 704.5 433 707.3 433.2 710.1 433.3 713 433.5 715.9 433.6 718.9 433.8 721.9 434 724.9 434.1 727.9 434.3 730.9 434.4 734 434.6 737 434.7 740.1 434.9 743.1 435.1 746.2 435.2 749.2 435.4 752.2 435.5 755.2 435.7 758.1 435.9 761 436 763.9 436.2 766.7 436.3 769.5 436.4 772.2 436.6 774.9 436.7 777.5 436.9 780 437 783.1 437.2 786.1 437.3 789.1 437.5 792.2 437.6 795.2 437.8 798.2 437.9 801.1 438.1 804.1 438.2 807 438.4 809.9 438.5 812.8 438.7 815.6 438.8 818.4 439 821.2 439.1 824 439.3 826.7 439.4 829.3 439.6 832 439.7 834.5 439.8 837.1 440 839.6 440.1 842 440.2 844.4 440.4 846.7 440.5 849.9 440.7 853 440.9 856.1 441.1 859 441.3 861.9 441.6 864.7 441.8 867.4 442 870.1 442.2 872.6 442.3 875.2 442.4 877.6 442.5 880 442.5 882.9 442.4 885.6 442.3 888.2 442.1 890.7 441.9 893.2 441.7 895.7 441.5 898.3 441.3"/>
<path stroke="#00009a" d="M109.7 14.6L109.8 17.4 109.9 20.3 110 23.1 110.2 25.9 110.3 28.8 110.4 31.7 110.5 34.5 110.6 37.4 110.7 40.3 110.8 43.2 110.9 46 111.1 48.9 111.2 51.8 111.3 54.7 111.4 57.6 111.5 60.5 111.6 63.4 111.7 66.3 111.8 69.2 112 72.1 112.1 74.9 112.2 77.8 112.3 80.7 112.4 83.6 112.5 86.5 112.6 89.3 112.7 92.2 112.9 95 113 97.9 113.1 100.7 113.2 103.6 113.3 106.4 113.4 109.2 113.5 112 113.7 114.8 113.8 117.6 113.9 120.4 114 123.1 114.1 125.9 114.2 128.6 114.3 131.3 114.4 134.1 114.5 136.8 114.7 139.4 114.8 142.1 114.9 144.8 115 147.4 115.1 150 115.2 153 115.4 156 115.5 158.9 115.6 161.9 115.7 164.8 115.8 167.7 116 170.7 116.1 173.6 116.2 176.5 116.3 179.4 116.5 182.2 116.6 185.1 116.7 188 116.8 190.8 116.9 193.6 117.1 196.5 117.2 199.3 117.3 202.1 117.4 204.8 117.6 207.6 117.7 210.4 117.8 213.1 117.9 215.8 118 218.5 118.2 221.2 118.3 223.9 118.4 226.6 118.5 229.3 118.7 231.9 118.8 234.5 118.9 237.2 119.1 239.8 119.2 242.3 119.3 244.9 119.5 247.5 119.6 250 119.8 253 119.9 256.1 120.1 259.1 120.3 262.1 120.4 265.1 120.6 268.1 120.8 271 120.9 273.9 121.1 276.9 121.3 279.8 121.4 282.6 121.6 285.5 121.8 288.3 122 291.1 122.2 293.9 122.3 296.6 122.5 299.4 122.7 302 122.9 304.7 123.1 307.3 123.2 309.9 123.4 312.5 123.6 315 123.8 317.5 124 320 124.2 323.1 124.5 326.2 124.7 329.3 125 332.3 125.3 335.3 125.5 338.2 125.8 341 126 343.9 126.3 346.6 126.6 349.3 126.8 352 127.1 354.6 127.4 357.1 127.7 359.6 128 362 128.4 364.9 128.8 367.7 129.1 370.4 129.5 373 129.9 375.5 130.3 378 130.8 380.4 131.2 382.7 131.7 385.1 132.3 388.1 133 391 133.7 393.9 134.4 396.6 135.1 399.2 135.9 401.7 136.9 404.5 137.8 407.1 138.9 409.5 140.1 411.8 141.7 414.2 143.4 416.5 145.1 418.4 146.9 420.1 148.4 421.8 148.9 424 149.2 426.6 150.1 428.4 152.6 429.2 155.8 429.2 158.4 428.4 159.5 426.4 160 423.6 160.9 421.8 162.8 421.7 165.1 422.6 167.1 423.9 169.3 425.7 171.4 427.8 173.4 430.1 174.9 432.2 176.3 434.6 177.5 437 178.8 439.5 180.1 442 181.3 444.1 182.4 446.3 183.6 448.4 184.7 450.6 185.9 452.8 187 455 188.1 457.4 189.2 459.8 190.3 462.3 191.3 464.7 192.4 467 193.5 469 195.1 472 196.7 474.6 198.5 475.9 200.2 475.4 202 473.9 204 472 205.5 470.7 207.1 469.1 208.8 467.2 210.6 465.3 212.5 463.2 214.4 461.1 216.3 459 218.2 456.9 220 455 221.9 453 223.9 450.9 225.8 448.9 227.7 446.9 229.6 444.9 231.5 443 233.4 441.1 235.2 439.3 237.2 437.3 239.2 435.4 241.1 433.6 243 431.8 244.9 430.1 246.8 428.4 248.8 426.7 250.8 425.2 252.8 423.7 254.8 422 256.9 420.1 258.6 418.4 260.4 416.5 262.2 414.4 264 412.3 265.9 410.1 267.8 407.9 269.7 405.7 271.6 403.6 273.5 401.7 275.5 399.8 277.6 397.8 279.6 396 281.7 394.1 283.8 392.4 285.9 390.7 288 389.1 290.2 387.6 292.5 386.1 294.9 384.7 297.2 383.5 299.6 382.2 302 381.1 304.5 380.1 306.9 379.2 309.6 378.3 312.3 377.5 315 376.9 317.8 376.3 320.6 375.8 323.6 375.4 326 375.1 328.4 374.9 330.9 374.6 333.5 374.5 336.1 374.4 338.7 374.3 341.5 374.2 344.2 374.2 347 374.2 349.5 374.2 352.1 374.3 354.7 374.3 357.3 374.4 360 374.6 362.7 374.7 365.5 374.9 368.3 375.1 371.1 375.3 374 375.5 377 375.8 380 376 382.5 376.2 385.1 376.5 387.7 376.7 390.4 377 393.1 377.3 395.9 377.6 398.7 377.9 401.5 378.2 404.4 378.6 407.2 378.9 410.1 379.2 413 379.6 415.8 380 418.7 380.3 421.6 380.7 424.4 381 427.2 381.4 430 381.7 432.8 382 435.6 382.4 438.5 382.7 441.3 383.1 444.2 383.5 447 383.8 449.9 384.2 452.8 384.6 455.6 384.9 458.5 385.3 461.3 385.7 464.1 386 466.8 386.4 469.6 386.8 472.3 387.1 474.9 387.5 477.5 387.9 480 388.2 483 388.6 485.9 389 488.8 389.5 491.6 389.9 494.4 390.3 497.1 390.7 499.8 391.1 502.4 391.5 505.1 391.9 507.8 392.3 510.5 392.7 513.3 393.1 516.1 393.5 518.9 393.9 521.6 394.2 524.4 394.6 527.2 394.9 530 395.3 532.8 395.6 535.6 396 538.3 396.3 541.1 396.7 543.9 397 546.7 397.3 549.5 397.6 552.3 397.9 555 398.2 557.8 398.5 560.6 398.7 563.4 399 566.1 399.2 568.9 399.5 571.7 399.8 574.5 400 577.2 400.3 580 400.6 582.8 400.9 585.6 401.2 588.3 401.5 591.1 401.8 593.9 402.1 596.6 402.4 599.4 402.7 602.2 403 605 403.3 607.7 403.6 610.5 403.9 613.3 404.2 616.1 404.5 618.9 404.8 621.6 405 624.4 405.3 627.2 405.6 630 405.9 632.8 406.1 635.6 406.4 638.3 406.6 641.1 406.9 643.9 407.1 646.7 407.3 649.4 407.5 652 407.6 654.6 407.8 657.1 407.9 659.7 408 662.2 408.2 664.9 408.3 667.6 408.4 670.4 408.5 673.4 408.7 676.6 408.8 680 409 682.1 409.1 684.3 409.2 686.5 409.4 688.9 409.5 691.3 409.7 693.8 409.8 696.4 410 699 410.1 701.7 410.3 704.5 410.4 707.3 410.6 710.1 410.8 713 410.9 715.9 411.1 718.9 411.3 721.9 411.5 724.9 411.7 727.9 411.9 731 412.1 734 412.2 737.1 412.4 740.1 412.6 743.1 412.8 746.2 413 749.2 413.2 752.2 413.4 755.2 413.6 758.1 413.8 761 414 763.9 414.1 766.7 414.3 769.5 414.5 772.2 414.7 774.9 414.9 777.5 415 780 415.2 783.1 415.4 786.1 415.6 789.1 415.8 792.1 416 795.1 416.2 798.1 416.4 801 416.6 803.9 416.8 806.8 417 809.7 417.2 812.5 417.4 815.3 417.6 818.1 417.8 820.9 418 823.6 418.1 826.3 418.3 829 418.5 831.6 418.7 834.2 418.9 836.8 419.2 839.3 419.4 841.8 419.6 844.3 419.8 846.7 420 849.8 420.3 852.9 420.6 856 420.9 859 421.2 862 421.5 864.9 421.9 867.8 422.2 870.5 422.5 873.2 422.8 875.8 423.1 878.3 423.4 880.7 423.7 882.9 424 885 424.2 888.1 424.6 890.8 424.9 893.3 425.2 895.8 425.5 898.3 425.8"/>
<path stroke="#9000aa" d="M106 14.6L106.1 17.4 106.2 20.3 106.3 23.1 106.4 25.9 106.4 28.8 106.5 31.7 106.6 34.5 106.7 37.4 106.8 40.3 106.9 43.2 106.9 46 107 48.9 107.1 51.8 107.2 54.7 107.3 57.6 107.4 60.5 107.4 63.4 107.5 66.3 107.6 69.2 107.7 72.1 107.8 74.9 107.9 77.8 107.9 80.7 108 83.6 108.1 86.5 108.2 89.3 108.3 92.2 108.4 95 108.5 97.9 108.5 100.7 108.6 103.6 108.7 106.4 108.8 109.2 108.9 112 109 114.8 109.1 117.6 109.2 120.4 109.3 123.1 109.4 125.9 109.5 128.6 109.6 131.3 109.7 134.1 109.8 136.8 109.9 139.4 110 142.1 110.1 144.8 110.2 147.4 110.3 150 110.4 153 110.6 155.9 110.7 158.8 110.8 161.7 110.9 164.6 111.1 167.5 111.2 170.3 111.3 173.1 111.5 175.9 111.6 178.7 111.7 181.5 111.9 184.2 112 187 112.2 189.7 112.3 192.5 112.4 195.2 112.6 197.9 112.7 200.6 112.9 203.3 113 206 113.2 208.7 113.3 211.4 113.5 214.1 113.6 216.8 113.8 219.5 113.9 222.2 114.1 225 114.2 227.7 114.4 230.4 114.5 233.2 114.7 235.9 114.9 238.7 115 241.5 115.2 244.3 115.3 247.2 115.5 250 115.7 252.7 115.8 255.5 116 258.3 116.1 261.2 116.3 264 116.5 266.9 116.6 269.8 116.8 272.7 117 275.7 117.1 278.7 117.3 281.6 117.5 284.6 117.6 287.6 117.8 290.6 118 293.6 118.2 296.6 118.3 299.6 118.5 302.6 118.7 305.6 118.9 308.5 119 311.5 119.2 314.4 119.4 317.4 119.6 320.3 119.8 323.2 119.9 326 120.1 328.8 120.3 331.6 120.5 334.4 120.7 337.1 120.8 339.8 121 342.5 121.2 345.1 121.4 347.7 121.6 350.2 121.8 352.7 121.9 355.1 122.1 357.5 122.3 359.8 122.5 362 122.8 365.4 123.1 368.7 123.4 371.9 123.7 375 124 378.1 124.3 381.1 124.6 384 124.9 386.8 125.2 389.6 125.4 392.4 125.7 395 126 397.6 126.3 400.2 126.6 402.7 126.9 405.2 127.2 407.6 127.5 410 127.9 413.2 128.3 416.2 128.6 419.1 129 422 129.4 424.7 129.7 427.3 130.1 429.9 130.5 432.5 130.9 435 131.4 438 131.9 440.9 132.4 443.8 133 446.5 133.5 449.1 134.2 451.7 134.9 454.2 135.7 456.7 136.5 459.1 137.4 461.3 138.4 463.4 139.5 465.5 140.8 467.5 142.1 469.3 143.4 470.9 145.6 472.6 147.6 474.2 148.2 476.2 148.4 478.4 149.2 480.1 151.7 480.9 155 480.9 157.6 480.1 158.6 478.3 159.2 475.9 160.1 474.2 162.4 473.7 165.1 474.2 167.1 475.1 169.3 476.5 171.4 478.2 173.4 480.1 174.9 481.8 176.3 483.7 177.6 485.7 178.9 487.9 180.1 490.1 181.3 492.4 182.4 494.9 183.6 497.4 184.7 500 185.7 502.6 186.8 505.1 187.8 507.5 188.6 510 189.5 512.5 190.4 514.9 191.4 516.9 192.6 518.5 194.4 520.1 196.4 521.1 198.5 521.5 200.4 521 202.4 519.9 204.5 518.4 206.8 516.8 208.6 515.5 210.6 514 212.7 512.3 214.8 510.6 217 508.8 219.2 506.9 221.4 505.1 223.5 503.4 225.6 501.7 227.7 500.1 229.8 498.4 231.8 496.8 233.9 495.1 236 493.4 238.1 491.8 240.2 490.1 242.3 488.4 244.4 486.8 246.5 485.1 248.6 483.5 250.7 481.8 252.8 480.1 254.8 478.4 256.9 476.7 259 474.9 261.1 473 263.1 471 265.2 469.1 267.2 467.2 269.3 465.3 271.4 463.4 273.5 461.7 275.5 460.1 277.6 458.5 279.7 456.9 281.7 455.4 283.8 453.9 285.9 452.5 288.1 451.2 290.2 450 292.5 448.8 294.9 447.7 297.3 446.7 299.7 445.8 302.1 444.9 304.5 444.1 306.9 443.4 309.6 442.7 312.3 442.1 315 441.6 317.8 441.1 320.6 440.7 323.6 440.4 326 440.2 328.4 440 330.9 439.9 333.5 439.8 336.1 439.7 338.8 439.7 341.5 439.7 344.2 439.7 347 439.7 349.5 439.7 352.1 439.8 354.7 439.8 357.3 439.9 360 440 362.7 440.1 365.5 440.2 368.3 440.4 371.1 440.5 374 440.7 377 440.8 380 441 382.5 441.2 385.1 441.3 387.7 441.5 390.4 441.7 393.1 441.9 395.9 442.1 398.7 442.3 401.5 442.5 404.4 442.7 407.2 443 410.1 443.2 413 443.5 415.8 443.7 418.7 444 421.6 444.2 424.4 444.5 427.2 444.7 430 445 432.8 445.3 435.6 445.6 438.5 445.9 441.3 446.2 444.2 446.5 447 446.8 449.9 447.1 452.8 447.5 455.6 447.8 458.5 448.1 461.3 448.4 464.1 448.8 466.8 449.1 469.6 449.4 472.3 449.7 474.9 450 477.5 450.3 480 450.6 483 450.9 485.9 451.3 488.8 451.6 491.6 451.9 494.3 452.2 497.1 452.5 499.8 452.8 502.4 453.1 505.1 453.3 507.8 453.6 510.5 453.9 513.3 454.2 516.1 454.5 518.9 454.8 521.6 455 524.4 455.3 527.2 455.6 530 455.9 532.8 456.1 535.6 456.4 538.4 456.7 541.1 456.9 543.9 457.2 546.7 457.4 549.5 457.6 552.3 457.9 555 458.1 557.8 458.3 560.6 458.5 563.4 458.7 566.1 459 568.9 459.2 571.7 459.4 574.5 459.6 577.2 459.8 580 460 582.8 460.2 585.5 460.4 588.3 460.6 591.1 460.8 593.9 461.1 596.6 461.3 599.4 461.5 602.2 461.7 605 461.9 607.7 462.1 610.5 462.3 613.3 462.5 616.1 462.7 618.9 462.9 621.6 463.1 624.4 463.3 627.2 463.5 630 463.8 632.8 464 635.6 464.2 638.4 464.4 641.1 464.5 643.9 464.7 646.7 464.9 649.4 465.1 652 465.2 654.6 465.3 657.1 465.5 659.7 465.6 662.2 465.7 664.9 465.8 667.6 465.9 670.4 466.1 673.4 466.2 676.6 466.3 680 466.5 682.1 466.6 684.3 466.7 686.5 466.8 688.9 466.9 691.3 467.1 693.8 467.2 696.4 467.3 699 467.5 701.7 467.6 704.5 467.7 707.3 467.9 710.1 468 713 468.2 715.9 468.3 718.9 468.5 721.9 468.6 724.9 468.8 727.9 468.9 730.9 469.1 734 469.3 737 469.4 740.1 469.6 743.1 469.7 746.2 469.9 749.2 470 752.2 470.2 755.2 470.3 758.1 470.5 761 470.6 763.9 470.7 766.7 470.9 769.5 471 772.2 471.1 774.9 471.3 777.5 471.4 780 471.5 783 471.6 786.1 471.8 789 471.9 792 472 794.9 472.1 797.8 472.2 800.7 472.3 803.5 472.5 806.4 472.6 809.2 472.7 812 472.8 814.7 472.9 817.5 473 820.2 473.1 822.9 473.2 825.6 473.3 828.3 473.4 830.9 473.5 833.6 473.6 836.2 473.7 838.9 473.8 841.5 473.9 844.1 474.1 846.7 474.2 849.6 474.4 852.4 474.5 855.2 474.7 858 474.8 860.8 475 863.5 475.2 866.2 475.4 868.9 475.5 871.6 475.7 874.3 475.9 876.9 476.1 879.6 476.2 882.2 476.4 884.9 476.6 887.6 476.8 890.2 477 892.9 477.1 895.6 477.3 898.3 477.5"/>
</g>
<text class="sb" x="81.0" y="22.8" font-size="22.5" text-anchor="end" textLength="30.9" lengthAdjust="spacingAndGlyphs">1.2</text>
<text class="sb" x="81.0" y="157.9" font-size="22.5" text-anchor="end" textLength="30.9" lengthAdjust="spacingAndGlyphs">1.0</text>
<text class="sb" x="81.0" y="293.8" font-size="22.5" text-anchor="end" textLength="30.9" lengthAdjust="spacingAndGlyphs">0.8</text>
<text class="sb" x="81.0" y="429.7" font-size="22.5" text-anchor="end" textLength="30.9" lengthAdjust="spacingAndGlyphs">0.6</text>
<text class="sb" x="81.0" y="565.6" font-size="22.5" text-anchor="end" textLength="30.9" lengthAdjust="spacingAndGlyphs">0.4</text>
<text class="sb" x="93.0" y="610.8" font-size="23.8" text-anchor="middle" textLength="36.9" lengthAdjust="spacingAndGlyphs">200</text>
<text class="sb" x="182.3" y="610.8" font-size="23.8" text-anchor="middle" textLength="36.9" lengthAdjust="spacingAndGlyphs">300</text>
<text class="sb" x="271.7" y="610.8" font-size="23.8" text-anchor="middle" textLength="36.9" lengthAdjust="spacingAndGlyphs">400</text>
<text class="sb" x="361.1" y="610.8" font-size="23.8" text-anchor="middle" textLength="36.9" lengthAdjust="spacingAndGlyphs">500</text>
<text class="sb" x="450.4" y="610.8" font-size="23.8" text-anchor="middle" textLength="36.9" lengthAdjust="spacingAndGlyphs">600</text>
<text class="sb" x="539.8" y="610.8" font-size="23.8" text-anchor="middle" textLength="36.9" lengthAdjust="spacingAndGlyphs">700</text>
<text class="sb" x="629.2" y="610.8" font-size="23.8" text-anchor="middle" textLength="36.9" lengthAdjust="spacingAndGlyphs">800</text>
<text class="sb" x="718.5" y="610.8" font-size="23.8" text-anchor="middle" textLength="36.9" lengthAdjust="spacingAndGlyphs">900</text>
<text class="sb" x="807.9" y="610.8" font-size="23.8" text-anchor="middle" textLength="49.4" lengthAdjust="spacingAndGlyphs">1000</text>
<text class="sb" x="897.3" y="610.8" font-size="23.8" text-anchor="middle" textLength="49.4" lengthAdjust="spacingAndGlyphs">1100</text>
<text class="sb" font-size="32.3" text-anchor="middle" transform="translate(24.6 296.8) rotate(-90)" textLength="186.5" lengthAdjust="spacingAndGlyphs">Absorbance</text>
<text class="tb" x="495.4" y="663.4" font-size="32" text-anchor="middle" textLength="225.6" lengthAdjust="spacing">Wavelength, nm</text>
<text class="tb" x="151.6" y="82.8" font-size="51">(a)</text>
<rect x="705.7" y="31.3" width="172.6" height="261.3" fill="#fff" stroke="#000" stroke-width="1.9"/>
<line x1="720.6" y1="60.6" x2="775.2" y2="60.6" stroke="#000000" stroke-width="5.6" stroke-linecap="round"/>
<text class="tb" y="69.9" font-size="27"><tspan x="795.6" textLength="40.6" lengthAdjust="spacingAndGlyphs">313</tspan> <tspan x="844.6" textLength="18.6" lengthAdjust="spacingAndGlyphs">K</tspan></text>
<line x1="720.6" y1="94.4" x2="775.2" y2="94.4" stroke="#ff0000" stroke-width="5.6" stroke-linecap="round"/>
<text class="tb" y="103.7" font-size="27"><tspan x="795.6" textLength="40.6" lengthAdjust="spacingAndGlyphs">323</tspan> <tspan x="844.6" textLength="18.6" lengthAdjust="spacingAndGlyphs">K</tspan></text>
<line x1="720.6" y1="128.2" x2="775.2" y2="128.2" stroke="#0000ff" stroke-width="5.6" stroke-linecap="round"/>
<text class="tb" y="137.5" font-size="27"><tspan x="795.6" textLength="40.6" lengthAdjust="spacingAndGlyphs">333</tspan> <tspan x="844.6" textLength="18.6" lengthAdjust="spacingAndGlyphs">K</tspan></text>
<line x1="720.6" y1="162.1" x2="775.2" y2="162.1" stroke="#ff00ff" stroke-width="5.6" stroke-linecap="round"/>
<text class="tb" y="171.4" font-size="27"><tspan x="795.6" textLength="40.6" lengthAdjust="spacingAndGlyphs">343</tspan> <tspan x="844.6" textLength="18.6" lengthAdjust="spacingAndGlyphs">K</tspan></text>
<line x1="720.6" y1="195.9" x2="775.2" y2="195.9" stroke="#048c04" stroke-width="5.6" stroke-linecap="round"/>
<text class="tb" y="205.2" font-size="27"><tspan x="795.6" textLength="40.6" lengthAdjust="spacingAndGlyphs">353</tspan> <tspan x="844.6" textLength="18.6" lengthAdjust="spacingAndGlyphs">K</tspan></text>
<line x1="720.6" y1="229.7" x2="775.2" y2="229.7" stroke="#00009a" stroke-width="5.6" stroke-linecap="round"/>
<text class="tb" y="239.0" font-size="27"><tspan x="795.6" textLength="40.6" lengthAdjust="spacingAndGlyphs">363</tspan> <tspan x="844.6" textLength="18.6" lengthAdjust="spacingAndGlyphs">K</tspan></text>
<line x1="720.6" y1="263.5" x2="775.2" y2="263.5" stroke="#9000aa" stroke-width="5.6" stroke-linecap="round"/>
<text class="tb" y="272.8" font-size="27"><tspan x="795.6" textLength="40.6" lengthAdjust="spacingAndGlyphs">373</tspan> <tspan x="844.6" textLength="18.6" lengthAdjust="spacingAndGlyphs">K</tspan></text>
</g>
<g id="plot-b">
<path fill="#000" d="M1079.15 14.95H1771.75V574.80H1079.15Z M1082.85 19.05H1768.25V570.60H1082.85Z" fill-rule="evenodd"/>
<path d="M1082.8 463.86 H1091.9 M1082.8 354.87 H1091.9 M1082.8 245.88 H1091.9 M1082.8 136.89 H1091.9 M1082.8 27.90 H1091.9 M1213.7 570.9 V562.4 M1346.2 570.9 V562.4 M1478.6 570.9 V562.4 M1611.1 570.9 V562.4 M1743.5 570.9 V562.4" stroke="#000" stroke-width="3.5" fill="none"/>
<g class="cb">
<path stroke="#000000" d="M1082 569.5L1084.8 569.4 1087.7 569.3 1090.6 569.3 1093.4 569.2 1096.3 569.1 1099.1 569 1102 569 1104.9 568.9 1107.7 568.8 1110.6 568.7 1113.5 568.7 1116.4 568.6 1119.2 568.5 1122.1 568.4 1125 568.3 1127.9 568.3 1130.7 568.2 1133.6 568.1 1136.5 568 1139.4 568 1142.2 567.9 1145.1 567.8 1148 567.7 1150.8 567.7 1153.7 567.6 1156.6 567.5 1159.4 567.4 1162.3 567.3 1165.1 567.3 1168 567.2 1170.8 567.1 1173.7 567 1176.5 567 1179.4 566.9 1182.2 566.8 1185 566.7 1187.8 566.7 1190.7 566.6 1193.5 566.5 1196.3 566.4 1199.1 566.4 1201.9 566.3 1204.7 566.2 1207.5 566.1 1210.2 566.1 1213 566 1215.9 565.9 1218.9 565.9 1221.9 565.8 1224.8 565.7 1227.8 565.6 1230.8 565.6 1233.8 565.5 1236.8 565.5 1239.8 565.4 1242.8 565.3 1245.8 565.3 1248.8 565.2 1251.8 565.2 1254.8 565.1 1257.8 565 1260.8 565 1263.8 564.9 1266.8 564.9 1269.7 564.8 1272.7 564.7 1275.6 564.7 1278.6 564.6 1281.5 564.6 1284.4 564.5 1287.3 564.4 1290.1 564.4 1293 564.3 1295.8 564.2 1298.6 564.1 1301.4 564.1 1304.1 564 1306.8 563.9 1309.5 563.8 1312.2 563.7 1314.9 563.6 1317.5 563.5 1320 563.4 1322.6 563.3 1325.1 563.2 1327.6 563.1 1330 563 1333.1 562.8 1336.2 562.7 1339.3 562.5 1342.3 562.4 1345.3 562.2 1348.2 562 1351.1 561.9 1354 561.7 1356.8 561.5 1359.6 561.3 1362.3 561.2 1365.1 561 1367.7 560.8 1370.4 560.6 1373 560.4 1375.6 560.1 1378.2 559.9 1380.7 559.7 1383.3 559.4 1385.8 559.2 1388.2 558.9 1390.7 558.7 1393.1 558.4 1396.2 558 1399.3 557.6 1402.3 557.3 1405.2 556.8 1408.1 556.4 1410.9 556 1413.7 555.6 1416.5 555.1 1419.2 554.6 1421.9 554.2 1424.6 553.7 1427.3 553.2 1429.9 552.6 1432.6 552.1 1435.4 551.5 1438.1 550.9 1440.9 550.3 1443.6 549.7 1446.3 549 1448.9 548.4 1451.6 547.7 1454.2 547 1456.7 546.3 1459.3 545.6 1461.8 544.9 1464.2 544.2 1467 543.4 1469.7 542.5 1472.4 541.7 1475 540.8 1477.5 540 1480.1 539.1 1482.6 538.2 1485.2 537.2 1487.8 536.3 1490.4 535.3 1493.1 534.4 1495.7 533.4 1498.4 532.4 1501 531.4 1503.7 530.3 1506.3 529.2 1508.9 528 1511.5 526.8 1513.9 525.6 1516.4 524.3 1518.9 523 1521.5 521.6 1523.9 520.2 1526.4 518.8 1528.8 517.3 1531 515.9 1533.2 514.4 1535.2 513 1537.6 511.2 1539.9 509.4 1542 507.5 1544 505.7 1545.9 503.7 1547.8 501.6 1549.5 499.5 1551.2 497.3 1552.9 495 1554.5 492.7 1556 490.3 1557.5 488 1558.9 485.8 1560.2 483.6 1561.4 481.4 1562.6 479.3 1563.7 477.1 1564.8 475.1 1566 473 1567.3 470.8 1568.7 468.7 1570 466.6 1571.4 464.4 1572.8 462 1573.9 460 1575.1 457.8 1576.2 455.5 1577.4 453.1 1578.6 450.6 1579.8 448.1 1580.9 445.6 1581.9 443 1582.9 440.5 1583.7 438.1 1584.4 435.6 1585 433.1 1585.6 430.6 1586.2 428.1 1586.7 425.5 1587.3 422.9 1587.9 420.4 1588.5 417.8 1589.2 415.3 1590 412.8 1590.8 410.2 1591.7 407.7 1592.6 405.1 1593.5 402.6 1594.4 400 1595.4 397.5 1596.3 395 1597.2 392.5 1598 390 1598.9 387.4 1599.7 384.8 1600.5 382.2 1601.3 379.7 1602.1 377.1 1602.9 374.6 1603.7 372 1604.5 369.4 1605.3 366.8 1606.1 364.3 1606.8 361.9 1607.6 359.4 1608.3 356.9 1609.1 354.5 1609.8 351.9 1610.6 349.4 1611.4 346.8 1612.1 344.2 1612.9 341.6 1613.6 339.1 1614.4 336.5 1615.1 333.9 1615.8 331.2 1616.6 328.5 1617.3 325.8 1618.1 323.1 1618.8 320.4 1619.5 317.7 1620.3 315.1 1621 312.5 1621.7 310 1622.5 307.2 1623.3 304.4 1624.1 301.7 1624.9 299 1625.7 296.4 1626.5 293.7 1627.2 291.1 1628 288.4 1628.8 285.6 1629.5 283.1 1630.2 280.6 1630.9 278.1 1631.6 275.6 1632.3 273 1633 270.5 1633.7 267.9 1634.4 265.4 1635 262.8 1635.7 260.3 1636.4 257.8 1637.1 255.2 1637.8 252.6 1638.5 249.9 1639.2 247.3 1639.9 244.7 1640.6 242.2 1641.3 239.6 1642 237 1642.7 234.5 1643.4 232 1644.1 229.4 1644.8 226.8 1645.5 224.3 1646.1 221.7 1646.8 219.2 1647.5 216.7 1648.2 214.2 1648.9 211.7 1649.7 209.3 1650.6 206.7 1651.5 204.1 1652.4 201.6 1653.4 199.1 1654.3 196.6 1655.3 194.1 1656.3 191.6 1657.3 189.1 1658.3 186.6 1659.4 184 1660.5 181.4 1661.6 178.9 1662.7 176.3 1663.8 173.8 1664.8 171.3 1665.8 168.9 1666.8 166.4 1667.7 163.8 1668.6 161.2 1669.5 158.7 1670.4 156.3 1671.2 154 1672 152 1673 149.3 1674 147 1675.2 144.5 1676.4 142.3 1677.8 140 1679.4 137.7 1681 135.3 1682.6 133.1 1684.3 131 1686 128.9 1687.8 126.9 1689.6 124.9 1691.4 123 1693.2 120.8 1694.9 118.5 1696.8 116.4 1699 114.8 1701.2 114 1703.6 113.5 1706.3 113.3 1709 113.1 1711.7 112.8 1714.1 112.3 1716.6 111.2 1719 109.8 1721.3 108.4 1723.5 107.4 1725.5 107.2 1727.7 108.5 1729.6 110.8 1731.8 112.9 1734.1 114.3 1736.6 115.7 1739.3 116.7 1741.9 117.3 1744.4 117.1 1746.9 116.5 1749.5 115.6 1752 114.8"/>
<path stroke="#ff0000" d="M1082 567.5L1084.8 567.4 1087.7 567.3 1090.6 567.2 1093.4 567.1 1096.3 567.1 1099.1 567 1102 566.9 1104.9 566.8 1107.7 566.7 1110.6 566.6 1113.5 566.5 1116.4 566.4 1119.2 566.3 1122.1 566.2 1125 566.2 1127.9 566.1 1130.7 566 1133.6 565.9 1136.5 565.8 1139.4 565.7 1142.2 565.6 1145.1 565.5 1148 565.4 1150.8 565.3 1153.7 565.2 1156.6 565.2 1159.4 565.1 1162.3 565 1165.1 564.9 1168 564.8 1170.8 564.7 1173.7 564.6 1176.5 564.5 1179.4 564.5 1182.2 564.4 1185 564.3 1187.8 564.2 1190.7 564.1 1193.5 564 1196.3 564 1199.1 563.9 1201.9 563.8 1204.7 563.7 1207.5 563.7 1210.2 563.6 1213 563.5 1216 563.4 1218.9 563.3 1222 563.3 1225 563.2 1228.1 563.1 1231.2 563.1 1234.3 563 1237.4 562.9 1240.5 562.9 1243.7 562.8 1246.8 562.8 1250 562.7 1253.1 562.7 1256.3 562.6 1259.4 562.5 1262.6 562.5 1265.7 562.4 1268.8 562.4 1271.9 562.3 1275 562.3 1278.1 562.2 1281.1 562.2 1284.1 562.1 1287.1 562 1290 562 1292.9 561.9 1295.8 561.9 1298.6 561.8 1301.4 561.7 1304.1 561.7 1306.8 561.6 1309.4 561.5 1312 561.5 1314.4 561.4 1316.9 561.3 1319.3 561.2 1321.6 561.2 1323.8 561.1 1325.9 561 1328 560.9 1330 560.8 1333.3 560.6 1336.4 560.4 1339.3 560.3 1342 560.1 1344.6 559.9 1347.1 559.7 1349.5 559.5 1351.8 559.3 1354.2 559.1 1356.6 558.9 1359 558.6 1361.6 558.4 1364.2 558.2 1366.9 557.9 1369.5 557.7 1372.1 557.5 1374.7 557.2 1377.4 557 1380 556.7 1382.6 556.5 1385.2 556.2 1387.9 555.9 1390.5 555.5 1393.1 555.2 1395.7 554.8 1398.4 554.5 1401 554.1 1403.7 553.7 1406.3 553.2 1408.9 552.8 1411.6 552.3 1414.2 551.8 1416.8 551.3 1419.5 550.8 1422.1 550.3 1424.7 549.7 1427.4 549.1 1430 548.5 1432.7 547.8 1435.4 547.1 1438.1 546.4 1440.8 545.7 1443.5 544.9 1446.2 544.2 1448.8 543.4 1451.3 542.6 1453.8 541.8 1456.3 541 1459.1 540.1 1461.8 539.1 1464.5 538.1 1467.1 537.2 1469.7 536.2 1472.2 535.1 1474.8 534 1477.3 532.8 1479.9 531.6 1482.3 530.4 1484.7 529.1 1487.2 527.7 1489.6 526.3 1492 524.9 1494.3 523.4 1496.7 521.9 1499 520.4 1501.3 518.8 1503.6 517.3 1505.8 515.8 1507.9 514.3 1510.1 512.8 1512.2 511.2 1514.3 509.7 1516.4 508.1 1518.4 506.5 1520.4 504.9 1522.3 503.3 1524.1 501.6 1526.1 499.7 1528 497.7 1529.9 495.7 1531.7 493.7 1533.5 491.7 1535.2 489.7 1536.8 487.7 1538.3 485.8 1539.9 483.6 1541.5 481.5 1542.9 479.3 1544.3 477.2 1545.7 475.1 1547 473 1548.4 470.8 1549.7 468.7 1551 466.7 1552.4 464.4 1553.8 462 1555 459.9 1556.2 457.8 1557.4 455.5 1558.7 453.1 1560 450.6 1561.4 448.1 1562.7 445.6 1564 443 1565.2 440.5 1566.4 438.1 1567.6 435.6 1568.8 433.1 1569.9 430.6 1571.1 428 1572.3 425.5 1573.4 422.9 1574.5 420.3 1575.6 417.8 1576.6 415.3 1577.6 412.7 1578.7 410.1 1579.6 407.5 1580.6 404.9 1581.5 402.3 1582.4 399.7 1583.3 397.1 1584.2 394.6 1585 392 1585.9 389.3 1586.7 386.7 1587.5 384.1 1588.2 381.5 1589 378.8 1589.8 376.2 1590.6 373.4 1591.4 370.6 1592.2 368.1 1592.9 365.6 1593.7 363 1594.5 360.4 1595.4 357.8 1596.2 355.1 1597 352.4 1597.9 349.7 1598.7 347 1599.5 344.3 1600.3 341.6 1601.1 339 1601.8 336.4 1602.6 333.7 1603.3 331 1604.1 328.3 1604.9 325.6 1605.6 322.9 1606.3 320.2 1607.1 317.6 1607.8 315 1608.4 312.5 1609.1 310 1609.8 307.3 1610.5 304.7 1611.1 302.1 1611.7 299.6 1612.3 297.1 1613 294.6 1613.6 292.1 1614.2 289.5 1614.9 286.8 1615.5 284.3 1616.2 281.7 1616.9 279.1 1617.5 276.4 1618.2 273.7 1618.9 271 1619.6 268.3 1620.3 265.7 1621.1 263 1621.8 260.4 1622.5 257.8 1623.3 255.1 1624.1 252.4 1624.9 249.8 1625.8 247.1 1626.6 244.4 1627.5 241.8 1628.3 239.3 1629.1 236.8 1629.8 234.3 1630.5 232 1631.3 229.1 1632 226.4 1632.7 223.8 1633.3 221.2 1633.9 218.5 1634.6 215.7 1635.2 213.2 1635.8 210.5 1636.4 207.9 1637 205.2 1637.6 202.4 1638.3 199.7 1638.9 196.9 1639.6 194.2 1640.3 191.7 1641 189.2 1641.7 186.6 1642.4 184.1 1643.2 181.5 1643.9 179 1644.6 176.4 1645.3 174 1646 171.5 1646.7 169 1647.3 166.5 1647.9 164.1 1648.5 161.7 1649.1 159.3 1649.7 156.9 1650.3 154.5 1651 152 1651.7 149.3 1652.4 146.6 1653.1 143.9 1653.9 141.1 1654.6 138.4 1655.4 135.7 1656.3 133.1 1657.3 130.6 1658.4 128.1 1659.6 125.7 1660.9 123.4 1662.3 121.1 1663.6 118.8 1664.9 116.5 1666.2 114.2 1667.4 111.9 1668.7 109.5 1669.9 107.2 1671.2 104.8 1672.3 102.5 1673.4 100.1 1674.4 97.8 1675.3 95.2 1676.2 92.6 1677 90 1677.6 87.5 1678.3 85 1678.8 82.6 1679.2 79.8 1679.4 77.1 1679.7 74.5 1680.5 72 1681.7 69.8 1683.3 67.6 1685.1 65.5 1687 63.6 1688.9 61.9 1690.8 60.6 1692.7 59.7 1694.6 58.8 1696.5 57.4 1698 55.6 1699.5 53.4 1700.8 51 1702.2 48.5 1703.7 46.2 1705.3 44.2 1707.2 42.5 1709.3 41.1 1711.5 39.8 1713.5 38.3 1715.4 36.6 1716.9 34.5 1718.1 31.9 1719.2 29.2 1720.4 26.6 1721.8 24.3 1723.6 22.7 1725.8 21.9 1728.4 21.7 1731.2 21.8 1734 22.1 1736.8 22.3 1739.4 22.1 1742 21.5 1744.6 20.8 1747 20 1749.5 19.1 1752 18.3"/>
<path stroke="#0000ff" d="M1082 569.5L1084.8 569.4 1087.7 569.4 1090.6 569.3 1093.4 569.2 1096.3 569.2 1099.1 569.1 1102 569 1104.9 569 1107.7 568.9 1110.6 568.8 1113.5 568.8 1116.4 568.7 1119.2 568.6 1122.1 568.6 1125 568.5 1127.9 568.5 1130.7 568.4 1133.6 568.3 1136.5 568.3 1139.4 568.2 1142.2 568.1 1145.1 568.1 1148 568 1150.8 567.9 1153.7 567.9 1156.6 567.8 1159.4 567.7 1162.3 567.7 1165.1 567.6 1168 567.5 1170.8 567.5 1173.7 567.4 1176.5 567.3 1179.4 567.3 1182.2 567.2 1185 567.1 1187.8 567.1 1190.7 567 1193.5 566.9 1196.3 566.9 1199.1 566.8 1201.9 566.8 1204.7 566.7 1207.5 566.6 1210.2 566.6 1213 566.5 1215.9 566.4 1218.9 566.4 1221.9 566.3 1224.8 566.2 1227.8 566.2 1230.8 566.1 1233.8 566.1 1236.8 566 1239.8 566 1242.8 565.9 1245.8 565.9 1248.8 565.8 1251.8 565.8 1254.8 565.7 1257.8 565.7 1260.8 565.6 1263.8 565.6 1266.8 565.5 1269.7 565.5 1272.7 565.4 1275.6 565.4 1278.6 565.3 1281.5 565.3 1284.4 565.2 1287.3 565.1 1290.1 565.1 1293 565 1295.8 565 1298.6 564.9 1301.4 564.8 1304.1 564.7 1306.8 564.7 1309.5 564.6 1312.2 564.5 1314.9 564.4 1317.5 564.3 1320 564.2 1322.6 564.1 1325.1 564 1327.6 563.9 1330 563.8 1333.1 563.6 1336.2 563.5 1339.3 563.3 1342.3 563.2 1345.3 563 1348.2 562.8 1351.1 562.7 1354 562.5 1356.8 562.3 1359.6 562.1 1362.3 561.9 1365.1 561.7 1367.7 561.5 1370.4 561.3 1373 561.1 1375.6 560.9 1378.2 560.7 1380.7 560.5 1383.3 560.2 1385.7 560 1388.2 559.7 1390.7 559.5 1393.1 559.2 1396.2 558.8 1399.3 558.5 1402.3 558.1 1405.2 557.7 1408.1 557.3 1410.9 556.9 1413.7 556.5 1416.5 556.1 1419.2 555.6 1421.9 555.2 1424.6 554.7 1427.3 554.2 1429.9 553.7 1432.6 553.2 1435.4 552.6 1438.1 552.1 1440.9 551.5 1443.6 550.9 1446.3 550.2 1448.9 549.6 1451.6 549 1454.2 548.3 1456.7 547.6 1459.3 547 1461.7 546.3 1464.2 545.6 1467 544.8 1469.7 544 1472.4 543.2 1475 542.4 1477.5 541.5 1480.1 540.7 1482.6 539.8 1485.2 538.9 1487.8 538 1490.4 537.1 1493.1 536.1 1495.7 535.1 1498.4 534.2 1501 533.1 1503.6 532.1 1506.3 531 1508.9 529.9 1511.5 528.8 1513.9 527.7 1516.3 526.6 1518.8 525.5 1521.2 524.3 1523.7 523.2 1526.1 521.9 1528.4 520.7 1530.8 519.4 1533 518.1 1535.2 516.8 1537.6 515.2 1540 513.6 1542.2 511.9 1544.5 510.2 1546.6 508.4 1548.8 506.7 1550.9 504.8 1553 503 1555.1 501.1 1557.2 499.2 1559.3 497.2 1561.4 495.1 1563.4 493.1 1565.4 491.1 1567.2 489 1569 487 1570.6 485 1572.1 482.9 1573.6 480.9 1574.9 478.9 1576.3 476.9 1577.6 474.9 1579 473 1580.7 470.8 1582.5 468.7 1584.2 466.7 1585.9 464.5 1587.5 462 1588.6 460 1589.8 457.8 1590.9 455.5 1591.9 453.1 1593 450.6 1594 448.1 1595 445.6 1596 443 1597 440.5 1597.9 438.1 1598.8 435.6 1599.6 433.1 1600.5 430.6 1601.3 428 1602.1 425.5 1602.9 422.9 1603.7 420.4 1604.6 417.8 1605.5 415.3 1606.4 412.7 1607.4 410.2 1608.4 407.6 1609.4 405 1610.4 402.4 1611.4 399.9 1612.4 397.3 1613.4 394.8 1614.3 392.4 1615.3 390 1616.3 387.5 1617.4 385.1 1618.4 382.7 1619.4 380.4 1620.4 378.1 1621.5 375.7 1622.5 373.2 1623.5 370.6 1624.4 368.2 1625.3 365.7 1626.2 363.2 1627.1 360.5 1628.1 357.9 1629 355.2 1629.9 352.5 1630.8 349.7 1631.7 347 1632.6 344.3 1633.5 341.6 1634.3 339.1 1635.2 336.5 1636 333.9 1636.9 331.4 1637.7 328.8 1638.5 326.2 1639.3 323.6 1640.2 321 1641 318.5 1641.8 315.9 1642.6 313.5 1643.4 311 1644.3 308.4 1645.1 305.8 1646 303.2 1646.8 300.7 1647.6 298.2 1648.5 295.7 1649.3 293.2 1650.1 290.7 1651 288.2 1651.8 285.6 1652.6 283.1 1653.4 280.6 1654.2 278.1 1655 275.6 1655.8 273 1656.6 270.5 1657.4 267.9 1658.3 265.4 1659.1 262.8 1659.9 260.3 1660.7 257.8 1661.6 255.1 1662.5 252.5 1663.4 249.8 1664.3 247.2 1665.2 244.5 1666.1 241.9 1667 239.3 1667.9 236.7 1668.8 234.1 1669.6 231.5 1670.5 228.8 1671.3 226.2 1672.1 223.5 1673 220.9 1673.8 218.3 1674.6 215.7 1675.4 213.2 1676.2 210.6 1677 208.1 1677.8 205.5 1678.6 202.9 1679.4 200.4 1680.2 197.8 1681 195.3 1681.8 192.8 1682.7 190.4 1683.6 187.9 1684.6 185.5 1685.6 183.1 1686.7 180.7 1687.8 178.3 1688.9 175.9 1690 173.6 1691.2 171.2 1692.3 168.9 1693.4 166.6 1694.6 164.2 1695.8 161.7 1697 159.3 1698.2 157 1699.4 154.8 1700.5 152.8 1701.5 151 1703 148.6 1704.4 146.6 1706 144.5 1707.4 142.6 1709 140.5 1710.7 138.4 1712.4 136.4 1714.1 134.4 1715.6 132.6 1717.2 130.9 1718.7 129.3 1720.3 127.6 1722 126 1723.9 124.2 1725.8 122.4 1727.7 120.6 1729.8 118.9 1731.8 117.3 1733.8 116 1735.8 114.9 1737.8 113.9 1739.9 112.8 1741.9 111.7 1743.9 110.5 1746 109.2 1748 107.9 1750 106.7 1752 105.4"/>
<path stroke="#ff00ff" d="M1082 566.5L1084.8 566.4 1087.7 566.3 1090.6 566.2 1093.4 566.1 1096.3 566.1 1099.1 566 1102 565.9 1104.9 565.8 1107.7 565.7 1110.6 565.6 1113.5 565.5 1116.4 565.4 1119.2 565.3 1122.1 565.3 1125 565.2 1127.9 565.1 1130.7 565 1133.6 564.9 1136.5 564.8 1139.4 564.7 1142.2 564.6 1145.1 564.5 1148 564.4 1150.8 564.4 1153.7 564.3 1156.6 564.2 1159.4 564.1 1162.3 564 1165.1 563.9 1168 563.8 1170.8 563.7 1173.7 563.6 1176.5 563.6 1179.4 563.5 1182.2 563.4 1185 563.3 1187.8 563.2 1190.7 563.1 1193.5 563.1 1196.3 563 1199.1 562.9 1201.9 562.8 1204.7 562.7 1207.5 562.7 1210.2 562.6 1213 562.5 1216 562.4 1218.9 562.3 1222 562.3 1225 562.2 1228.1 562.1 1231.2 562 1234.3 562 1237.4 561.9 1240.5 561.8 1243.7 561.8 1246.8 561.7 1250 561.6 1253.1 561.6 1256.3 561.5 1259.4 561.4 1262.6 561.4 1265.7 561.3 1268.8 561.2 1271.9 561.2 1275 561.1 1278.1 561 1281.1 561 1284.1 560.9 1287.1 560.8 1290 560.8 1292.9 560.7 1295.8 560.6 1298.6 560.6 1301.4 560.5 1304.1 560.4 1306.8 560.4 1309.4 560.3 1311.9 560.2 1314.4 560.2 1316.9 560.1 1319.3 560 1321.6 559.9 1323.8 559.8 1325.9 559.8 1328 559.7 1330 559.6 1333.3 559.4 1336.4 559.3 1339.3 559.1 1342 559 1344.6 558.8 1347.1 558.7 1349.5 558.5 1351.8 558.3 1354.2 558.2 1356.6 558 1359 557.8 1361.6 557.6 1364.2 557.4 1366.8 557.2 1369.4 557 1372 556.8 1374.6 556.7 1377.1 556.4 1379.7 556.2 1382.3 556 1385 555.8 1387.7 555.5 1390.4 555.2 1393.1 554.9 1395.8 554.6 1398.6 554.2 1401.4 553.9 1404.2 553.5 1407.1 553.1 1410 552.7 1412.9 552.3 1415.8 551.9 1418.7 551.5 1421.5 551 1424.4 550.5 1427.2 550 1429.9 549.5 1432.6 548.9 1435.4 548.3 1438.2 547.7 1440.9 547 1443.6 546.3 1446.3 545.6 1449 544.9 1451.6 544.1 1454.2 543.4 1456.8 542.6 1459.3 541.8 1461.8 541 1464.2 540.2 1467 539.2 1469.7 538.3 1472.4 537.3 1475 536.3 1477.6 535.3 1480.1 534.3 1482.7 533.2 1485.2 532 1487.8 530.8 1490.2 529.6 1492.6 528.4 1495.1 527.1 1497.5 525.8 1499.9 524.5 1502.2 523.1 1504.6 521.7 1506.9 520.2 1509.2 518.8 1511.5 517.3 1513.7 515.8 1515.8 514.3 1518 512.8 1520.1 511.3 1522.1 509.7 1524.2 508.1 1526.2 506.5 1528.2 504.9 1530.1 503.2 1532 501.6 1534.2 499.7 1536.3 497.7 1538.4 495.8 1540.4 493.8 1542.4 491.8 1544.3 489.8 1546.1 487.8 1547.8 485.8 1549.6 483.5 1551.3 481.2 1552.8 478.8 1554.3 476.5 1555.9 474.2 1557.5 472 1559.2 470 1560.8 468 1562.5 466.1 1564.3 464.2 1566 462.2 1567.7 460 1569.1 458.1 1570.5 456.1 1572 454 1573.4 451.9 1574.9 449.7 1576.3 447.5 1577.7 445.2 1579.1 442.8 1580.4 440.5 1581.6 438.1 1582.8 435.7 1584 433.2 1585.1 430.7 1586.2 428.2 1587.3 425.6 1588.4 423 1589.5 420.4 1590.6 417.8 1591.7 415.3 1592.8 412.8 1593.9 410.2 1595 407.6 1596.1 405 1597.2 402.5 1598.3 399.9 1599.4 397.4 1600.5 394.9 1601.5 392.4 1602.5 390 1603.6 387.5 1604.6 385.1 1605.5 382.7 1606.5 380.4 1607.5 378.1 1608.4 375.7 1609.4 373.2 1610.4 370.6 1611.3 368.2 1612.2 365.7 1613.1 363.2 1614 360.6 1614.9 357.9 1615.9 355.2 1616.8 352.5 1617.7 349.8 1618.6 347 1619.6 344.3 1620.5 341.6 1621.4 339 1622.3 336.4 1623.2 333.7 1624.1 331.1 1625.1 328.4 1626 325.7 1626.9 323 1627.8 320.4 1628.7 317.7 1629.5 315.1 1630.4 312.5 1631.2 310 1632 307.3 1632.8 304.7 1633.6 302.2 1634.4 299.6 1635.1 297.1 1635.9 294.6 1636.6 292 1637.4 289.5 1638.1 286.9 1638.9 284.3 1639.7 281.7 1640.5 279.1 1641.3 276.5 1642.1 273.8 1642.9 271.1 1643.7 268.4 1644.5 265.8 1645.3 263.1 1646.1 260.5 1646.9 257.9 1647.7 255.3 1648.5 252.7 1649.4 250.1 1650.2 247.5 1651.1 244.9 1652 242.4 1652.8 239.9 1653.6 237.4 1654.4 234.9 1655.2 232.4 1655.9 230 1656.6 227.3 1657.3 224.7 1658 222.1 1658.6 219.5 1659.2 217 1659.8 214.4 1660.4 211.9 1661.1 209.3 1661.8 206.6 1662.6 204 1663.4 201.3 1664.2 198.6 1665 195.9 1665.8 193.3 1666.6 190.6 1667.4 187.9 1668.2 185.2 1669 182.5 1669.8 179.7 1670.6 177 1671.4 174.2 1672.2 171.6 1672.9 168.9 1673.7 166.4 1674.5 163.9 1675.2 161.4 1676 159 1676.8 156.6 1677.5 154.3 1678.2 152.1 1678.8 150 1679.5 147.5 1680 145.3 1680.6 143.1 1681.3 140.7 1682 138.5 1682.8 136.2 1683.7 133.8 1684.6 131.4 1685.5 129.1 1686.4 126.8 1687.4 124.4 1688.3 122.1 1689.3 119.9 1690.3 117.7 1691.4 115.5 1692.5 113.4 1693.7 111.3 1695 109.2 1696.3 107.3 1697.7 105.4 1699.4 103.3 1701.3 101.3 1703.2 99.5 1705.3 97.8 1707.7 96.4 1710.3 95.2 1712.9 94.1 1715.4 92.7 1717.5 90.9 1719.5 88.7 1721.5 86.8 1723.6 85.8 1725.9 86.2 1728.2 87.4 1730.6 88.8 1733.1 89.6 1735.6 89.5 1738.2 89 1740.7 88.3 1743.2 87.7 1745.4 87.3 1747.6 87 1749.8 86.7 1752 86.4"/>
<path stroke="#007800" d="M1082 569L1084.8 568.9 1087.7 568.8 1090.6 568.8 1093.4 568.7 1096.3 568.6 1099.1 568.5 1102 568.5 1104.9 568.4 1107.7 568.3 1110.6 568.2 1113.5 568.1 1116.4 568.1 1119.2 568 1122.1 567.9 1125 567.8 1127.9 567.8 1130.7 567.7 1133.6 567.6 1136.5 567.5 1139.4 567.4 1142.2 567.4 1145.1 567.3 1148 567.2 1150.8 567.1 1153.7 567.1 1156.6 567 1159.4 566.9 1162.3 566.8 1165.1 566.7 1168 566.7 1170.8 566.6 1173.7 566.5 1176.5 566.4 1179.4 566.4 1182.2 566.3 1185 566.2 1187.8 566.1 1190.7 566.1 1193.5 566 1196.3 565.9 1199.1 565.9 1201.9 565.8 1204.7 565.7 1207.5 565.6 1210.2 565.6 1213 565.5 1215.9 565.4 1218.9 565.4 1221.9 565.3 1224.8 565.2 1227.8 565.2 1230.8 565.1 1233.8 565.1 1236.8 565 1239.8 564.9 1242.8 564.9 1245.8 564.8 1248.8 564.8 1251.8 564.7 1254.8 564.7 1257.8 564.6 1260.8 564.6 1263.8 564.5 1266.8 564.5 1269.7 564.4 1272.7 564.4 1275.6 564.3 1278.6 564.3 1281.5 564.2 1284.4 564.2 1287.3 564.1 1290.1 564.1 1293 564 1295.8 563.9 1298.6 563.9 1301.4 563.8 1304.1 563.7 1306.8 563.7 1309.5 563.6 1312.2 563.5 1314.9 563.4 1317.5 563.3 1320 563.2 1322.6 563.1 1325.1 563 1327.6 562.9 1330 562.8 1333.1 562.6 1336.2 562.5 1339.3 562.3 1342.3 562.2 1345.3 562 1348.2 561.8 1351.1 561.7 1354 561.5 1356.8 561.3 1359.6 561.1 1362.3 561 1365.1 560.8 1367.7 560.6 1370.4 560.4 1373 560.2 1375.6 559.9 1378.2 559.7 1380.7 559.5 1383.3 559.2 1385.8 559 1388.2 558.7 1390.7 558.5 1393.1 558.2 1396.2 557.8 1399.3 557.5 1402.3 557.1 1405.2 556.7 1408.1 556.3 1410.9 555.8 1413.7 555.4 1416.5 555 1419.2 554.5 1421.9 554 1424.6 553.5 1427.3 553 1429.9 552.5 1432.6 552 1435.4 551.4 1438.1 550.8 1440.9 550.2 1443.6 549.6 1446.3 549 1448.9 548.3 1451.6 547.6 1454.2 547 1456.7 546.3 1459.3 545.6 1461.8 544.9 1464.2 544.2 1467 543.4 1469.7 542.5 1472.4 541.7 1475 540.8 1477.5 540 1480.1 539.1 1482.6 538.2 1485.2 537.2 1487.8 536.3 1490.4 535.3 1493.1 534.3 1495.7 533.3 1498.4 532.3 1501 531.3 1503.7 530.2 1506.3 529.1 1508.9 528 1511.5 526.8 1513.9 525.7 1516.4 524.5 1518.8 523.3 1521.3 522.1 1523.8 520.8 1526.2 519.5 1528.5 518.2 1530.8 516.9 1533.1 515.6 1535.2 514.2 1537.4 512.7 1539.5 511.2 1541.6 509.7 1543.5 508.1 1545.5 506.6 1547.3 504.9 1549.2 503.3 1551 501.6 1553 499.6 1555 497.6 1557 495.5 1558.9 493.3 1560.7 491.2 1562.4 489.1 1564 487 1565.7 484.6 1567.2 482.2 1568.6 479.8 1570 477.4 1571.5 475 1572.9 472.9 1574.4 470.8 1575.9 468.8 1577.4 466.6 1578.9 464.4 1580.4 462 1581.6 459.9 1582.9 457.7 1584.2 455.3 1585.4 453 1586.7 450.5 1588 448 1589.2 445.5 1590.5 443 1591.7 440.5 1592.9 438.1 1594 435.6 1595.2 433.1 1596.4 430.6 1597.5 428.1 1598.7 425.5 1599.8 423 1600.9 420.4 1602 417.8 1603.1 415.3 1604.2 412.8 1605.2 410.2 1606.3 407.6 1607.3 405 1608.3 402.5 1609.4 399.9 1610.3 397.4 1611.3 394.9 1612.3 392.4 1613.2 390 1614.2 387.5 1615.1 385.1 1616 382.7 1616.9 380.4 1617.8 378.1 1618.6 375.7 1619.6 373.2 1620.5 370.6 1621.4 368.2 1622.3 365.7 1623.2 363.1 1624.1 360.5 1625 357.9 1626 355.2 1626.9 352.5 1627.8 349.7 1628.8 347 1629.7 344.3 1630.6 341.6 1631.4 339.1 1632.3 336.5 1633.1 333.9 1634 331.4 1634.8 328.8 1635.6 326.2 1636.4 323.6 1637.3 321 1638.1 318.5 1638.9 315.9 1639.7 313.5 1640.5 311 1641.4 308.4 1642.2 305.8 1643.1 303.2 1643.9 300.7 1644.8 298.2 1645.6 295.7 1646.5 293.2 1647.3 290.7 1648.2 288.2 1649 285.6 1649.8 283.1 1650.6 280.6 1651.4 278.1 1652.2 275.6 1653 273 1653.8 270.5 1654.6 268 1655.4 265.4 1656.2 262.9 1657 260.3 1657.8 257.8 1658.6 255.3 1659.5 252.7 1660.4 250.2 1661.3 247.6 1662.1 245.1 1663 242.5 1663.9 240 1664.8 237.5 1665.6 234.9 1666.5 232.5 1667.3 230 1668.2 227.2 1669.1 224.4 1670 221.7 1670.8 218.9 1671.7 216.2 1672.5 213.5 1673.4 210.8 1674.2 208.2 1675 205.6 1675.8 203 1676.6 200.4 1677.3 197.8 1678.1 195.3 1678.9 192.8 1679.6 190.3 1680.4 187.9 1681.3 185.4 1682.2 183 1683.1 180.5 1684.1 178.1 1685.1 175.7 1686.1 173.3 1687.1 170.9 1688 168.6 1688.9 166.4 1689.9 163.8 1690.8 161.3 1691.7 158.9 1692.6 156.5 1693.5 154.2 1694.3 152 1695.2 149.7 1695.9 147.5 1696.7 145.4 1697.7 143.2 1698.8 141.2 1700 139.2 1701.3 137.1 1702.6 135.1 1704 133.1 1705.5 131.1 1707 129.1 1708.5 127.1 1710.1 125.1 1711.6 123 1712.9 121 1714.1 118.8 1715.4 116.6 1716.6 114.4 1717.9 112.3 1719.2 110.4 1721 108.2 1722.7 106.3 1724.7 104.5 1726.8 102.8 1729.1 101.4 1731.6 100.1 1734.2 99 1736.8 97.8 1739.4 96.5 1741.5 95.3 1743.6 94.1 1745.7 92.8 1747.8 91.5 1749.9 90.2 1752 88.9"/>
<path stroke="#000080" d="M1082 569L1084.8 568.9 1087.7 568.9 1090.6 568.8 1093.4 568.7 1096.3 568.7 1099.1 568.6 1102 568.5 1104.9 568.5 1107.7 568.4 1110.6 568.3 1113.5 568.3 1116.4 568.2 1119.2 568.2 1122.1 568.1 1125 568 1127.9 568 1130.7 567.9 1133.6 567.8 1136.5 567.8 1139.4 567.7 1142.2 567.6 1145.1 567.6 1148 567.5 1150.8 567.4 1153.7 567.4 1156.6 567.3 1159.4 567.2 1162.3 567.2 1165.1 567.1 1168 567 1170.8 567 1173.7 566.9 1176.5 566.9 1179.4 566.8 1182.2 566.7 1185 566.7 1187.8 566.6 1190.7 566.5 1193.5 566.5 1196.3 566.4 1199.1 566.3 1201.9 566.3 1204.7 566.2 1207.5 566.1 1210.2 566.1 1213 566 1215.9 565.9 1218.9 565.9 1221.9 565.8 1224.8 565.7 1227.8 565.7 1230.8 565.6 1233.8 565.6 1236.8 565.5 1239.8 565.4 1242.8 565.4 1245.8 565.3 1248.8 565.3 1251.8 565.2 1254.8 565.2 1257.8 565.1 1260.8 565.1 1263.8 565 1266.8 564.9 1269.7 564.9 1272.7 564.8 1275.6 564.8 1278.6 564.7 1281.5 564.7 1284.4 564.6 1287.3 564.5 1290.1 564.5 1293 564.4 1295.8 564.3 1298.6 564.2 1301.4 564.2 1304.1 564.1 1306.8 564 1309.5 563.9 1312.2 563.8 1314.9 563.7 1317.5 563.6 1320 563.5 1322.6 563.4 1325.1 563.3 1327.6 563.2 1330 563.1 1333.1 562.9 1336.2 562.8 1339.3 562.6 1342.3 562.5 1345.3 562.3 1348.2 562.1 1351.1 561.9 1354 561.8 1356.8 561.6 1359.6 561.4 1362.3 561.2 1365.1 561 1367.7 560.8 1370.4 560.6 1373 560.4 1375.6 560.2 1378.2 559.9 1380.7 559.7 1383.3 559.5 1385.8 559.2 1388.2 558.9 1390.7 558.7 1393.1 558.4 1396.2 558 1399.3 557.6 1402.3 557.2 1405.2 556.8 1408.1 556.4 1410.9 556 1413.7 555.6 1416.5 555.1 1419.2 554.6 1421.9 554.2 1424.6 553.7 1427.3 553.2 1429.9 552.6 1432.6 552.1 1435.4 551.5 1438.1 550.9 1440.9 550.3 1443.6 549.7 1446.3 549 1448.9 548.4 1451.6 547.7 1454.2 547 1456.7 546.3 1459.3 545.6 1461.8 544.9 1464.2 544.2 1467 543.4 1469.7 542.5 1472.4 541.7 1475 540.8 1477.5 540 1480.1 539.1 1482.6 538.2 1485.2 537.2 1487.8 536.3 1490.4 535.3 1493.1 534.3 1495.7 533.3 1498.4 532.3 1501 531.3 1503.7 530.2 1506.3 529.1 1508.9 528 1511.5 526.8 1513.9 525.7 1516.4 524.5 1518.8 523.3 1521.3 522.1 1523.8 520.8 1526.2 519.5 1528.5 518.2 1530.8 516.9 1533.1 515.6 1535.2 514.2 1537.4 512.7 1539.5 511.2 1541.5 509.7 1543.4 508.1 1545.3 506.6 1547.2 505 1549.1 503.3 1551 501.6 1553 499.8 1555.1 497.8 1557.2 495.9 1559.2 493.9 1561.2 491.8 1563.1 489.8 1565 487.8 1566.7 485.8 1568.5 483.5 1570.2 481.1 1571.8 478.7 1573.3 476.4 1574.8 474.1 1576.4 472 1578.2 469.9 1580 468.1 1581.8 466.3 1583.6 464.3 1585.4 462 1586.7 460 1588 457.9 1589.3 455.6 1590.6 453.2 1591.9 450.7 1593.2 448.2 1594.4 445.6 1595.6 443 1596.8 440.5 1597.9 438.1 1598.9 435.6 1600 433.1 1601 430.6 1602 428.1 1603 425.5 1603.9 422.9 1604.9 420.4 1605.9 417.8 1606.9 415.3 1607.9 412.8 1608.9 410.2 1609.9 407.6 1611 405 1612 402.4 1613 399.9 1614 397.3 1615 394.8 1616 392.4 1617 390 1618.1 387.5 1619.2 385.1 1620.2 382.7 1621.3 380.4 1622.3 378.1 1623.4 375.7 1624.4 373.2 1625.5 370.6 1626.4 368.2 1627.4 365.7 1628.3 363.2 1629.2 360.5 1630.1 357.9 1631 355.2 1632 352.5 1632.9 349.7 1633.8 347 1634.7 344.3 1635.6 341.6 1636.4 339.1 1637.3 336.5 1638.1 333.9 1639 331.4 1639.8 328.8 1640.6 326.2 1641.4 323.6 1642.3 321 1643.1 318.5 1643.9 315.9 1644.7 313.5 1645.5 311 1646.4 308.4 1647.2 305.8 1648.1 303.2 1648.9 300.7 1649.8 298.2 1650.6 295.7 1651.5 293.2 1652.3 290.7 1653.2 288.2 1654 285.6 1654.8 283.1 1655.6 280.6 1656.4 278.1 1657.2 275.6 1658 273 1658.9 270.5 1659.7 267.9 1660.5 265.4 1661.3 262.8 1662.1 260.3 1662.9 257.8 1663.8 255.1 1664.6 252.5 1665.5 249.8 1666.4 247.2 1667.3 244.5 1668.1 241.9 1669 239.3 1669.8 236.7 1670.7 234.1 1671.5 231.5 1672.3 228.8 1673.2 226.2 1674 223.5 1674.8 220.9 1675.6 218.3 1676.4 215.7 1677.2 213.2 1678 210.6 1678.8 208.1 1679.6 205.5 1680.4 202.9 1681.1 200.4 1681.9 197.9 1682.7 195.3 1683.4 192.9 1684.2 190.4 1685.1 187.9 1686 185.5 1686.9 183.1 1687.9 180.7 1688.8 178.3 1689.8 175.9 1690.8 173.6 1691.8 171.2 1692.7 168.9 1693.7 166.4 1694.7 163.8 1695.7 161.2 1696.6 158.7 1697.6 156.3 1698.6 154 1699.5 152 1700.6 149.9 1701.7 148.1 1702.8 146.4 1704 144.5 1705.4 142.6 1706.9 140.5 1708.4 138.5 1710 136.4 1711.6 134.4 1713.1 132.3 1714.6 130.2 1716.1 128.1 1717.6 126.1 1719.2 124.3 1721 122.6 1722.8 121 1724.7 119.6 1726.8 118 1728.7 116.6 1730.7 115.1 1732.9 113.6 1735.1 112.1 1737.3 110.6 1739.4 109.1 1741.5 107.6 1743.6 106 1745.7 104.4 1747.8 102.8 1749.9 101.3 1752 99.7"/>
<path stroke="#6a00f4" stroke-width="3.4" d="M1082 569L1084.8 568.9 1087.7 568.9 1090.6 568.8 1093.4 568.7 1096.3 568.7 1099.1 568.6 1102 568.5 1104.9 568.5 1107.7 568.4 1110.6 568.3 1113.5 568.2 1116.4 568.2 1119.2 568.1 1122.1 568 1125 568 1127.9 567.9 1130.7 567.8 1133.6 567.7 1136.5 567.7 1139.4 567.6 1142.2 567.5 1145.1 567.5 1148 567.4 1150.8 567.3 1153.7 567.3 1156.6 567.2 1159.4 567.1 1162.3 567.1 1165.1 567 1168 566.9 1170.8 566.9 1173.7 566.8 1176.5 566.7 1179.4 566.7 1182.2 566.6 1185 566.5 1187.8 566.5 1190.7 566.4 1193.5 566.4 1196.3 566.3 1199.1 566.3 1201.9 566.2 1204.7 566.1 1207.5 566.1 1210.2 566 1213 566 1215.9 566 1218.9 565.9 1221.9 565.9 1224.9 565.8 1227.9 565.8 1231 565.8 1234 565.7 1237 565.7 1240.1 565.7 1243.2 565.6 1246.2 565.6 1249.3 565.6 1252.4 565.6 1255.4 565.6 1258.5 565.5 1261.6 565.5 1264.6 565.5 1267.6 565.5 1270.7 565.5 1273.7 565.5 1276.7 565.4 1279.6 565.4 1282.6 565.4 1285.5 565.4 1288.4 565.4 1291.3 565.3 1294.2 565.3 1297 565.3 1299.8 565.3 1302.5 565.2 1305.2 565.2 1307.9 565.2 1310.6 565.1 1313.2 565.1 1315.7 565 1318.2 565 1320.7 564.9 1323.1 564.9 1325.5 564.8 1327.8 564.8 1330 564.7 1333.3 564.6 1336.6 564.5 1339.7 564.4 1342.8 564.3 1345.8 564.1 1348.6 564 1351.5 563.9 1354.2 563.7 1356.9 563.6 1359.6 563.5 1362.2 563.3 1364.7 563.2 1367.3 563 1369.8 562.8 1372.3 562.7 1374.8 562.5 1377.3 562.3 1380.2 562.1 1382.9 561.9 1385.7 561.6 1388.3 561.4 1390.9 561.2 1393.5 560.9 1396.1 560.7 1398.6 560.4 1401.2 560.1 1403.7 559.8 1406.3 559.5 1408.9 559.2 1411.5 558.9 1414.2 558.5 1416.8 558.2 1419.5 557.8 1422.1 557.4 1424.7 557 1427.4 556.6 1430 556.2 1432.6 555.8 1435.2 555.4 1437.9 554.9 1440.5 554.4 1443.1 553.9 1445.8 553.4 1448.4 552.9 1451 552.3 1453.7 551.8 1456.3 551.2 1458.9 550.6 1461.5 550 1464.2 549.3 1466.8 548.7 1469.4 548 1472 547.3 1474.7 546.6 1477.3 545.8 1480 545 1482.7 544.1 1485.4 543.3 1488.1 542.4 1490.8 541.6 1493.4 540.7 1496.1 539.8 1498.6 538.9 1501.1 538 1503.6 537.1 1506.4 536.1 1509.1 535.1 1511.8 534 1514.4 533 1517 532 1519.6 530.9 1522.1 529.9 1524.7 528.7 1527.3 527.6 1529.7 526.5 1532.1 525.4 1534.5 524.3 1536.9 523.2 1539.3 522 1541.7 520.8 1544.1 519.6 1546.4 518.4 1548.7 517.1 1551 515.8 1553.4 514.4 1555.8 512.9 1558.2 511.4 1560.6 509.8 1562.9 508.3 1565.2 506.7 1567.3 505 1569.5 503.3 1571.5 501.6 1573.5 499.7 1575.5 497.8 1577.3 495.8 1579.1 493.8 1580.9 491.8 1582.6 489.7 1584.2 487.7 1585.7 485.8 1587.3 483.6 1588.9 481.4 1590.3 479.3 1591.7 477.2 1593.1 475.1 1594.5 473 1596.2 470.8 1597.9 468.7 1599.6 466.7 1601.3 464.5 1603.1 462 1604.5 460 1605.8 457.8 1607.3 455.5 1608.7 453.1 1610.1 450.6 1611.6 448.1 1613 445.6 1614.4 443 1615.7 440.5 1616.9 438.1 1618.1 435.6 1619.3 433.1 1620.5 430.6 1621.6 428.1 1622.7 425.5 1623.8 423 1624.9 420.4 1626 417.8 1627.1 415.3 1628.2 412.8 1629.2 410.2 1630.2 407.6 1631.3 405 1632.3 402.4 1633.3 399.9 1634.2 397.3 1635.2 394.8 1636.2 392.4 1637.2 390 1638.3 387.5 1639.3 385.1 1640.4 382.7 1641.4 380.4 1642.5 378.1 1643.5 375.7 1644.6 373.2 1645.7 370.6 1646.7 368.2 1647.7 365.7 1648.7 363.1 1649.8 360.5 1650.8 357.9 1651.9 355.2 1653 352.4 1654 349.7 1655.1 347 1656.1 344.3 1657.1 341.6 1658 339.1 1659 336.6 1659.9 334.1 1660.8 331.6 1661.8 329.1 1662.7 326.6 1663.6 324 1664.5 321.5 1665.4 319 1666.3 316.5 1667.2 314 1668 311.5 1668.9 308.9 1669.7 306.3 1670.5 303.7 1671.3 301.1 1672.1 298.5 1672.9 295.9 1673.7 293.3 1674.4 290.7 1675.2 288.1 1676 285.6 1676.8 283 1677.6 280.5 1678.4 277.9 1679.2 275.4 1680 272.8 1680.8 270.2 1681.5 267.7 1682.3 265.2 1683.1 262.7 1684 260.2 1684.8 257.7 1685.6 255.3 1686.6 252.5 1687.6 249.7 1688.6 246.9 1689.7 244.1 1690.7 241.3 1691.7 238.7 1692.7 236.1 1693.6 233.7 1694.5 231.5 1695.5 229.1 1696.3 227 1697.2 225 1698 222.9 1699 220.7 1700 218.5 1701 216.2 1702.1 213.9 1703.2 211.5 1704.4 209 1705.5 206.6 1706.6 204.3 1707.8 201.7 1709.1 199.2 1710.3 196.7 1711.5 194.2 1712.8 191.6 1714.1 189.1 1715.3 186.8 1716.5 184.4 1717.8 182 1719.1 179.6 1720.4 177.2 1721.7 174.9 1723 172.7 1724.4 170.4 1725.9 168.2 1727.3 166.1 1728.8 164 1730.3 162 1731.8 160.1 1733.8 157.9 1735.7 155.8 1737.7 153.8 1739.5 152 1741.2 150.3 1742.7 148.7 1744.4 147 1746.2 145.1 1748.1 143 1750.1 140.9 1752 138.8"/>
</g>
<text class="sb" x="1069" y="580.6" font-size="31.5" text-anchor="end" textLength="16.0" lengthAdjust="spacingAndGlyphs">0</text>
<text class="sb" x="1069" y="473.0" font-size="31.5" text-anchor="end" textLength="47.2" lengthAdjust="spacingAndGlyphs">500</text>
<text class="sb" x="1069" y="364.0" font-size="31.5" text-anchor="end" textLength="64.4" lengthAdjust="spacingAndGlyphs">1000</text>
<text class="sb" x="1069" y="255.0" font-size="31.5" text-anchor="end" textLength="64.4" lengthAdjust="spacingAndGlyphs">1500</text>
<text class="sb" x="1069" y="146.0" font-size="31.5" text-anchor="end" textLength="64.4" lengthAdjust="spacingAndGlyphs">2000</text>
<text class="sb" x="1069" y="37.0" font-size="31.5" text-anchor="end" textLength="64.4" lengthAdjust="spacingAndGlyphs">2500</text>
<text class="sb" x="1081.3" y="607.6" font-size="31" text-anchor="middle" textLength="39.0" lengthAdjust="spacingAndGlyphs">4.0</text>
<text class="sb" x="1213.7" y="607.6" font-size="31" text-anchor="middle" textLength="39.0" lengthAdjust="spacingAndGlyphs">4.5</text>
<text class="sb" x="1346.2" y="607.6" font-size="31" text-anchor="middle" textLength="39.0" lengthAdjust="spacingAndGlyphs">5.0</text>
<text class="sb" x="1478.6" y="607.6" font-size="31" text-anchor="middle" textLength="39.0" lengthAdjust="spacingAndGlyphs">5.5</text>
<text class="sb" x="1611.1" y="607.6" font-size="31" text-anchor="middle" textLength="39.0" lengthAdjust="spacingAndGlyphs">6.0</text>
<text class="sb" x="1743.5" y="607.6" font-size="31" text-anchor="middle" textLength="39.0" lengthAdjust="spacingAndGlyphs">6.5</text>
<text x="1378.5" y="658.6" font-size="28.4" class="sb" letter-spacing="0.5">h<tspan class="tr" font-size="29.5">&#957;</tspan> (eV)</text>
<g transform="translate(975.0 424.0) rotate(-90)"><text><tspan class="sr" x="-0.6" y="-1.7" font-size="29">(</tspan><tspan class="tr" x="12.6" y="0" font-size="31" textLength="14" lengthAdjust="spacingAndGlyphs">&#945;</tspan><tspan class="sb" x="26.5" y="0" font-size="32">h</tspan><tspan class="tr" x="45.4" y="0" font-size="28">&#957;</tspan><tspan class="sr" x="61.4" y="-1.7" font-size="29">)</tspan><tspan class="sb" x="70.8" y="-14.7" font-size="17.5" textLength="8.4" lengthAdjust="spacingAndGlyphs">2</tspan></text></g>
<g transform="translate(968.7 325.8) rotate(-90)"><text class="tb" x="0" y="0" font-size="30" letter-spacing="0.5">(cm<tspan font-size="21" dy="-9.3">-1</tspan><tspan dy="9.3">.eV)</tspan><tspan font-size="21" dy="-9.3">2</tspan></text></g>
<text class="tb" x="1109.3" y="76.9" font-size="51">(b)</text>
<line x1="1310" y1="94.1" x2="1375" y2="94.1" stroke="#000000" stroke-width="4.7" stroke-linecap="round"/>
<text class="sb" x="1383.5" y="104.7" font-size="29.6" textLength="68.6" lengthAdjust="spacingAndGlyphs">313K</text>
<line x1="1310" y1="130.5" x2="1375" y2="130.5" stroke="#ff0000" stroke-width="4.7" stroke-linecap="round"/>
<text class="sb" x="1383.5" y="141.1" font-size="29.6" textLength="68.6" lengthAdjust="spacingAndGlyphs">323K</text>
<line x1="1310" y1="166.9" x2="1375" y2="166.9" stroke="#0000ff" stroke-width="3.3" stroke-linecap="round"/>
<text class="sb" x="1383.5" y="177.5" font-size="29.6" textLength="68.6" lengthAdjust="spacingAndGlyphs">333K</text>
<line x1="1310" y1="203.4" x2="1375" y2="203.4" stroke="#ff00ff" stroke-width="4.7" stroke-linecap="round"/>
<text class="sb" x="1383.5" y="214.0" font-size="29.6" textLength="68.6" lengthAdjust="spacingAndGlyphs">343K</text>
<line x1="1310" y1="239.8" x2="1375" y2="239.8" stroke="#007800" stroke-width="4.7" stroke-linecap="round"/>
<text class="sb" x="1383.5" y="250.4" font-size="29.6" textLength="68.6" lengthAdjust="spacingAndGlyphs">353K</text>
<line x1="1310" y1="276.2" x2="1375" y2="276.2" stroke="#000080" stroke-width="4.7" stroke-linecap="round"/>
<text class="sb" x="1383.5" y="286.8" font-size="29.6" textLength="68.6" lengthAdjust="spacingAndGlyphs">363K</text>
<line x1="1310" y1="312.6" x2="1375" y2="312.6" stroke="#6a00f4" stroke-width="3.3" stroke-linecap="round"/>
<text class="sb" x="1383.5" y="323.2" font-size="29.6" textLength="68.6" lengthAdjust="spacingAndGlyphs">373K</text>
</g>
</svg></body></html>
